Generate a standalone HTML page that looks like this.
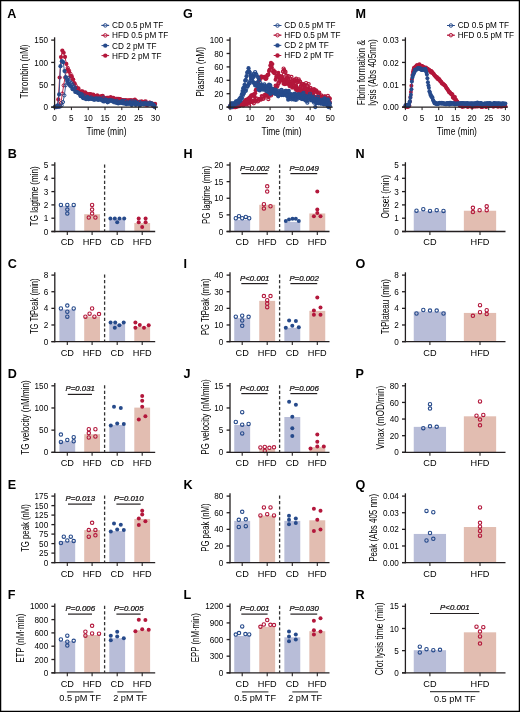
<!DOCTYPE html>
<html><head><meta charset="utf-8"><title>Figure</title>
<style>html,body{margin:0;padding:0;background:#fff;}svg{display:block;font-family:"Liberation Sans",sans-serif;will-change:transform;}</style>
</head><body>
<svg width="520" height="712" viewBox="0 0 520 712" font-family="Liberation Sans, sans-serif"><rect x="0" y="0" width="520" height="712" fill="#fff"/>
<path d="M55.61,106.91 L56.95,106.4 L58.3,106.23 L59.64,105.91 L60.98,102.95 L62.33,93.57 L63.67,85.42 L65.02,77.51 L66.36,71.09 L67.7,67.82 L69.05,70.53 L70.39,73.73 L71.74,78.25 L73.08,79.36 L74.42,83.24 L75.77,85.67 L77.11,89.42 L78.46,91.16 L79.8,91.75 L81.14,92.29 L82.49,92.53 L83.83,93.72 L85.18,94.17 L86.52,95.42 L87.86,94.96 L89.21,95.2 L90.55,96.36 L91.9,94.75 L93.24,95.99 L94.58,95.79 L95.93,97.47 L97.27,97.76 L98.62,97.64 L99.96,97.64 L101.3,97.24 L102.65,97.74 L103.99,98.49 L105.34,99.09 L106.68,98.92 L108.02,97.71 L109.37,99.53 L110.71,98.87 L112.06,98.91 L113.4,100.64 L114.74,99.59 L116.09,98.77 L117.43,101.62 L118.78,100.45 L120.12,100.46 L121.46,101.22 L122.81,100.35 L124.15,100.95 L125.5,102.17 L126.84,100.43 L128.18,100.66 L129.53,100.53 L130.87,100.23 L132.22,101.2 L133.56,101.5 L134.9,102.73 L136.25,101.29 L137.59,102.38 L138.94,102.38 L140.28,103.23 L141.62,103.18 L142.97,103.03 L144.31,101.76 L145.66,104.63 L147,104.36 L148.34,103.2 L149.69,102.42 L151.03,103.32 L152.38,105.51 L153.72,106.2 L155.06,104.08" fill="none" stroke="#b3173b" stroke-width="0.9"/>
<g fill="none" stroke="#b3173b" stroke-width="1"><circle cx="55.61" cy="106.91" r="1.6"/><circle cx="56.95" cy="106.4" r="1.6"/><circle cx="58.3" cy="106.23" r="1.6"/><circle cx="59.64" cy="105.91" r="1.6"/><circle cx="60.98" cy="102.95" r="1.6"/><circle cx="62.33" cy="93.57" r="1.6"/><circle cx="63.67" cy="85.42" r="1.6"/><circle cx="65.02" cy="77.51" r="1.6"/><circle cx="66.36" cy="71.09" r="1.6"/><circle cx="67.7" cy="67.82" r="1.6"/><circle cx="69.05" cy="70.53" r="1.6"/><circle cx="70.39" cy="73.73" r="1.6"/><circle cx="71.74" cy="78.25" r="1.6"/><circle cx="73.08" cy="79.36" r="1.6"/><circle cx="74.42" cy="83.24" r="1.6"/><circle cx="75.77" cy="85.67" r="1.6"/><circle cx="77.11" cy="89.42" r="1.6"/><circle cx="78.46" cy="91.16" r="1.6"/><circle cx="79.8" cy="91.75" r="1.6"/><circle cx="81.14" cy="92.29" r="1.6"/><circle cx="82.49" cy="92.53" r="1.6"/><circle cx="83.83" cy="93.72" r="1.6"/><circle cx="85.18" cy="94.17" r="1.6"/><circle cx="86.52" cy="95.42" r="1.6"/><circle cx="87.86" cy="94.96" r="1.6"/><circle cx="89.21" cy="95.2" r="1.6"/><circle cx="90.55" cy="96.36" r="1.6"/><circle cx="91.9" cy="94.75" r="1.6"/><circle cx="93.24" cy="95.99" r="1.6"/><circle cx="94.58" cy="95.79" r="1.6"/><circle cx="95.93" cy="97.47" r="1.6"/><circle cx="97.27" cy="97.76" r="1.6"/><circle cx="98.62" cy="97.64" r="1.6"/><circle cx="99.96" cy="97.64" r="1.6"/><circle cx="101.3" cy="97.24" r="1.6"/><circle cx="102.65" cy="97.74" r="1.6"/><circle cx="103.99" cy="98.49" r="1.6"/><circle cx="105.34" cy="99.09" r="1.6"/><circle cx="106.68" cy="98.92" r="1.6"/><circle cx="108.02" cy="97.71" r="1.6"/><circle cx="109.37" cy="99.53" r="1.6"/><circle cx="110.71" cy="98.87" r="1.6"/><circle cx="112.06" cy="98.91" r="1.6"/><circle cx="113.4" cy="100.64" r="1.6"/><circle cx="114.74" cy="99.59" r="1.6"/><circle cx="116.09" cy="98.77" r="1.6"/><circle cx="117.43" cy="101.62" r="1.6"/><circle cx="118.78" cy="100.45" r="1.6"/><circle cx="120.12" cy="100.46" r="1.6"/><circle cx="121.46" cy="101.22" r="1.6"/><circle cx="122.81" cy="100.35" r="1.6"/><circle cx="124.15" cy="100.95" r="1.6"/><circle cx="125.5" cy="102.17" r="1.6"/><circle cx="126.84" cy="100.43" r="1.6"/><circle cx="128.18" cy="100.66" r="1.6"/><circle cx="129.53" cy="100.53" r="1.6"/><circle cx="130.87" cy="100.23" r="1.6"/><circle cx="132.22" cy="101.2" r="1.6"/><circle cx="133.56" cy="101.5" r="1.6"/><circle cx="134.9" cy="102.73" r="1.6"/><circle cx="136.25" cy="101.29" r="1.6"/><circle cx="137.59" cy="102.38" r="1.6"/><circle cx="138.94" cy="102.38" r="1.6"/><circle cx="140.28" cy="103.23" r="1.6"/><circle cx="141.62" cy="103.18" r="1.6"/><circle cx="142.97" cy="103.03" r="1.6"/><circle cx="144.31" cy="101.76" r="1.6"/><circle cx="145.66" cy="104.63" r="1.6"/><circle cx="147" cy="104.36" r="1.6"/><circle cx="148.34" cy="103.2" r="1.6"/><circle cx="149.69" cy="102.42" r="1.6"/><circle cx="151.03" cy="103.32" r="1.6"/><circle cx="152.38" cy="105.51" r="1.6"/><circle cx="153.72" cy="106.2" r="1.6"/><circle cx="155.06" cy="104.08" r="1.6"/></g>
<path d="M55.61,107.1 L56.95,106.96 L58.3,99.4 L59.64,77.5 L60.98,57.07 L62.33,50.59 L63.67,52.75 L65.02,56.91 L66.36,63.93 L67.7,69.29 L69.05,71.77 L70.39,76.21 L71.74,76.17 L73.08,79.55 L74.42,83.26 L75.77,87.7 L77.11,88.17 L78.46,88.46 L79.8,92.09 L81.14,91.44 L82.49,91.27 L83.83,93.95 L85.18,92.41 L86.52,93.48 L87.86,94.27 L89.21,94.11 L90.55,94.22 L91.9,95.01 L93.24,94.55 L94.58,96.37 L95.93,96.41 L97.27,95.44 L98.62,96.45 L99.96,97.37 L101.3,96.09 L102.65,95.87 L103.99,97.62 L105.34,98.59 L106.68,97.81 L108.02,98.03 L109.37,98.37 L110.71,97.22 L112.06,99.39 L113.4,97.77 L114.74,100.01 L116.09,99.84 L117.43,98.92 L118.78,98.74 L120.12,99.17 L121.46,99.8 L122.81,100.18 L124.15,100.33 L125.5,100.09 L126.84,100.79 L128.18,100.52 L129.53,100.39 L130.87,100.95 L132.22,100.43 L133.56,100.69 L134.9,99.63 L136.25,101.08 L137.59,101.79 L138.94,101.87 L140.28,101.82 L141.62,101.3 L142.97,102.54 L144.31,102.19 L145.66,101.26 L147,105.03 L148.34,104.1 L149.69,103.24 L151.03,103.34 L152.38,103.71 L153.72,104.48 L155.06,103.84" fill="none" stroke="#b3173b" stroke-width="0.9"/>
<g fill="#b3173b"><circle cx="55.61" cy="107.1" r="2.1"/><circle cx="56.95" cy="106.96" r="2.1"/><circle cx="58.3" cy="99.4" r="2.1"/><circle cx="59.64" cy="77.5" r="2.1"/><circle cx="60.98" cy="57.07" r="2.1"/><circle cx="62.33" cy="50.59" r="2.1"/><circle cx="63.67" cy="52.75" r="2.1"/><circle cx="65.02" cy="56.91" r="2.1"/><circle cx="66.36" cy="63.93" r="2.1"/><circle cx="67.7" cy="69.29" r="2.1"/><circle cx="69.05" cy="71.77" r="2.1"/><circle cx="70.39" cy="76.21" r="2.1"/><circle cx="71.74" cy="76.17" r="2.1"/><circle cx="73.08" cy="79.55" r="2.1"/><circle cx="74.42" cy="83.26" r="2.1"/><circle cx="75.77" cy="87.7" r="2.1"/><circle cx="77.11" cy="88.17" r="2.1"/><circle cx="78.46" cy="88.46" r="2.1"/><circle cx="79.8" cy="92.09" r="2.1"/><circle cx="81.14" cy="91.44" r="2.1"/><circle cx="82.49" cy="91.27" r="2.1"/><circle cx="83.83" cy="93.95" r="2.1"/><circle cx="85.18" cy="92.41" r="2.1"/><circle cx="86.52" cy="93.48" r="2.1"/><circle cx="87.86" cy="94.27" r="2.1"/><circle cx="89.21" cy="94.11" r="2.1"/><circle cx="90.55" cy="94.22" r="2.1"/><circle cx="91.9" cy="95.01" r="2.1"/><circle cx="93.24" cy="94.55" r="2.1"/><circle cx="94.58" cy="96.37" r="2.1"/><circle cx="95.93" cy="96.41" r="2.1"/><circle cx="97.27" cy="95.44" r="2.1"/><circle cx="98.62" cy="96.45" r="2.1"/><circle cx="99.96" cy="97.37" r="2.1"/><circle cx="101.3" cy="96.09" r="2.1"/><circle cx="102.65" cy="95.87" r="2.1"/><circle cx="103.99" cy="97.62" r="2.1"/><circle cx="105.34" cy="98.59" r="2.1"/><circle cx="106.68" cy="97.81" r="2.1"/><circle cx="108.02" cy="98.03" r="2.1"/><circle cx="109.37" cy="98.37" r="2.1"/><circle cx="110.71" cy="97.22" r="2.1"/><circle cx="112.06" cy="99.39" r="2.1"/><circle cx="113.4" cy="97.77" r="2.1"/><circle cx="114.74" cy="100.01" r="2.1"/><circle cx="116.09" cy="99.84" r="2.1"/><circle cx="117.43" cy="98.92" r="2.1"/><circle cx="118.78" cy="98.74" r="2.1"/><circle cx="120.12" cy="99.17" r="2.1"/><circle cx="121.46" cy="99.8" r="2.1"/><circle cx="122.81" cy="100.18" r="2.1"/><circle cx="124.15" cy="100.33" r="2.1"/><circle cx="125.5" cy="100.09" r="2.1"/><circle cx="126.84" cy="100.79" r="2.1"/><circle cx="128.18" cy="100.52" r="2.1"/><circle cx="129.53" cy="100.39" r="2.1"/><circle cx="130.87" cy="100.95" r="2.1"/><circle cx="132.22" cy="100.43" r="2.1"/><circle cx="133.56" cy="100.69" r="2.1"/><circle cx="134.9" cy="99.63" r="2.1"/><circle cx="136.25" cy="101.08" r="2.1"/><circle cx="137.59" cy="101.79" r="2.1"/><circle cx="138.94" cy="101.87" r="2.1"/><circle cx="140.28" cy="101.82" r="2.1"/><circle cx="141.62" cy="101.3" r="2.1"/><circle cx="142.97" cy="102.54" r="2.1"/><circle cx="144.31" cy="102.19" r="2.1"/><circle cx="145.66" cy="101.26" r="2.1"/><circle cx="147" cy="105.03" r="2.1"/><circle cx="148.34" cy="104.1" r="2.1"/><circle cx="149.69" cy="103.24" r="2.1"/><circle cx="151.03" cy="103.34" r="2.1"/><circle cx="152.38" cy="103.71" r="2.1"/><circle cx="153.72" cy="104.48" r="2.1"/><circle cx="155.06" cy="103.84" r="2.1"/></g>
<path d="M54.94,107.02 L56.28,107.1 L57.62,106.42 L58.97,106.83 L60.31,106.48 L61.66,105.34 L63,102.07 L64.34,95.35 L65.69,85.29 L67.03,79.07 L68.38,77.95 L69.72,81.46 L71.06,82.78 L72.41,84.22 L73.75,86.53 L75.1,87.88 L76.44,92.1 L77.78,92.4 L79.13,93.89 L80.47,93.8 L81.82,94.18 L83.16,97.92 L84.5,95.6 L85.85,98.18 L87.19,96.84 L88.54,98.96 L89.88,97.93 L91.22,97.38 L92.57,98.72 L93.91,98.71 L95.26,98.46 L96.6,99.14 L97.94,99.48 L99.29,98.33 L100.63,98.88 L101.98,100.11 L103.32,97.81 L104.66,101.07 L106.01,99.54 L107.35,100.62 L108.7,100.43 L110.04,100.1 L111.38,100.62 L112.73,100.41 L114.07,102.28 L115.42,102.4 L116.76,100.82 L118.1,102.22 L119.45,102.4 L120.79,102.89 L122.14,100.82 L123.48,101.36 L124.82,100.86 L126.17,102.88 L127.51,102.2 L128.86,103.2 L130.2,101.74 L131.54,101.16 L132.89,103.23 L134.23,101.34 L135.58,101.88 L136.92,102.9 L138.26,104.42 L139.61,101.85 L140.95,103.22 L142.3,103.78 L143.64,103.14 L144.98,103.29 L146.33,102.58 L147.67,104.76 L149.02,103.19 L150.36,103.07 L151.7,103.26 L153.05,104.73 L154.39,105.34" fill="none" stroke="#264a8b" stroke-width="0.9"/>
<g fill="none" stroke="#264a8b" stroke-width="1"><circle cx="54.94" cy="107.02" r="1.6"/><circle cx="56.28" cy="107.1" r="1.6"/><circle cx="57.62" cy="106.42" r="1.6"/><circle cx="58.97" cy="106.83" r="1.6"/><circle cx="60.31" cy="106.48" r="1.6"/><circle cx="61.66" cy="105.34" r="1.6"/><circle cx="63" cy="102.07" r="1.6"/><circle cx="64.34" cy="95.35" r="1.6"/><circle cx="65.69" cy="85.29" r="1.6"/><circle cx="67.03" cy="79.07" r="1.6"/><circle cx="68.38" cy="77.95" r="1.6"/><circle cx="69.72" cy="81.46" r="1.6"/><circle cx="71.06" cy="82.78" r="1.6"/><circle cx="72.41" cy="84.22" r="1.6"/><circle cx="73.75" cy="86.53" r="1.6"/><circle cx="75.1" cy="87.88" r="1.6"/><circle cx="76.44" cy="92.1" r="1.6"/><circle cx="77.78" cy="92.4" r="1.6"/><circle cx="79.13" cy="93.89" r="1.6"/><circle cx="80.47" cy="93.8" r="1.6"/><circle cx="81.82" cy="94.18" r="1.6"/><circle cx="83.16" cy="97.92" r="1.6"/><circle cx="84.5" cy="95.6" r="1.6"/><circle cx="85.85" cy="98.18" r="1.6"/><circle cx="87.19" cy="96.84" r="1.6"/><circle cx="88.54" cy="98.96" r="1.6"/><circle cx="89.88" cy="97.93" r="1.6"/><circle cx="91.22" cy="97.38" r="1.6"/><circle cx="92.57" cy="98.72" r="1.6"/><circle cx="93.91" cy="98.71" r="1.6"/><circle cx="95.26" cy="98.46" r="1.6"/><circle cx="96.6" cy="99.14" r="1.6"/><circle cx="97.94" cy="99.48" r="1.6"/><circle cx="99.29" cy="98.33" r="1.6"/><circle cx="100.63" cy="98.88" r="1.6"/><circle cx="101.98" cy="100.11" r="1.6"/><circle cx="103.32" cy="97.81" r="1.6"/><circle cx="104.66" cy="101.07" r="1.6"/><circle cx="106.01" cy="99.54" r="1.6"/><circle cx="107.35" cy="100.62" r="1.6"/><circle cx="108.7" cy="100.43" r="1.6"/><circle cx="110.04" cy="100.1" r="1.6"/><circle cx="111.38" cy="100.62" r="1.6"/><circle cx="112.73" cy="100.41" r="1.6"/><circle cx="114.07" cy="102.28" r="1.6"/><circle cx="115.42" cy="102.4" r="1.6"/><circle cx="116.76" cy="100.82" r="1.6"/><circle cx="118.1" cy="102.22" r="1.6"/><circle cx="119.45" cy="102.4" r="1.6"/><circle cx="120.79" cy="102.89" r="1.6"/><circle cx="122.14" cy="100.82" r="1.6"/><circle cx="123.48" cy="101.36" r="1.6"/><circle cx="124.82" cy="100.86" r="1.6"/><circle cx="126.17" cy="102.88" r="1.6"/><circle cx="127.51" cy="102.2" r="1.6"/><circle cx="128.86" cy="103.2" r="1.6"/><circle cx="130.2" cy="101.74" r="1.6"/><circle cx="131.54" cy="101.16" r="1.6"/><circle cx="132.89" cy="103.23" r="1.6"/><circle cx="134.23" cy="101.34" r="1.6"/><circle cx="135.58" cy="101.88" r="1.6"/><circle cx="136.92" cy="102.9" r="1.6"/><circle cx="138.26" cy="104.42" r="1.6"/><circle cx="139.61" cy="101.85" r="1.6"/><circle cx="140.95" cy="103.22" r="1.6"/><circle cx="142.3" cy="103.78" r="1.6"/><circle cx="143.64" cy="103.14" r="1.6"/><circle cx="144.98" cy="103.29" r="1.6"/><circle cx="146.33" cy="102.58" r="1.6"/><circle cx="147.67" cy="104.76" r="1.6"/><circle cx="149.02" cy="103.19" r="1.6"/><circle cx="150.36" cy="103.07" r="1.6"/><circle cx="151.7" cy="103.26" r="1.6"/><circle cx="153.05" cy="104.73" r="1.6"/><circle cx="154.39" cy="105.34" r="1.6"/></g>
<path d="M55.1,106.72 L56.45,106.53 L57.79,105.43 L59.14,94.45 L60.48,66.16 L61.82,61.19 L63.17,62.19 L64.51,71.11 L65.86,77.14 L67.2,81.07 L68.54,83.51 L69.89,85.61 L71.23,86.84 L72.58,89.18 L73.92,89.5 L75.26,92.01 L76.61,92.12 L77.95,92.8 L79.3,93.58 L80.64,96.17 L81.98,95.4 L83.33,98.17 L84.67,98.07 L86.02,99.19 L87.36,97.08 L88.7,99.26 L90.05,98.56 L91.39,98.97 L92.74,99.1 L94.08,99.82 L95.42,99.38 L96.77,98.28 L98.11,99.84 L99.46,99.6 L100.8,99.38 L102.14,100.5 L103.49,101.51 L104.83,101.09 L106.18,99.94 L107.52,102.28 L108.86,101.59 L110.21,100.45 L111.55,100.77 L112.9,101.56 L114.24,101.07 L115.58,101.74 L116.93,102.97 L118.27,103.43 L119.62,102.84 L120.96,101.74 L122.3,103.09 L123.65,103.5 L124.99,103.46 L126.34,104.14 L127.68,103.07 L129.02,103.99 L130.37,102.82 L131.71,105.08 L133.06,102.98 L134.4,103.83 L135.74,104.94 L137.09,102.87 L138.43,103.74 L139.78,105.44 L141.12,104.5 L142.46,103.7 L143.81,104.45 L145.15,103.6 L146.5,103.77 L147.84,103.97 L149.18,104.39 L150.53,103.72 L151.87,104.41 L153.22,104.72 L154.56,106.9" fill="none" stroke="#264a8b" stroke-width="0.9"/>
<g fill="#264a8b"><circle cx="55.1" cy="106.72" r="2.1"/><circle cx="56.45" cy="106.53" r="2.1"/><circle cx="57.79" cy="105.43" r="2.1"/><circle cx="59.14" cy="94.45" r="2.1"/><circle cx="60.48" cy="66.16" r="2.1"/><circle cx="61.82" cy="61.19" r="2.1"/><circle cx="63.17" cy="62.19" r="2.1"/><circle cx="64.51" cy="71.11" r="2.1"/><circle cx="65.86" cy="77.14" r="2.1"/><circle cx="67.2" cy="81.07" r="2.1"/><circle cx="68.54" cy="83.51" r="2.1"/><circle cx="69.89" cy="85.61" r="2.1"/><circle cx="71.23" cy="86.84" r="2.1"/><circle cx="72.58" cy="89.18" r="2.1"/><circle cx="73.92" cy="89.5" r="2.1"/><circle cx="75.26" cy="92.01" r="2.1"/><circle cx="76.61" cy="92.12" r="2.1"/><circle cx="77.95" cy="92.8" r="2.1"/><circle cx="79.3" cy="93.58" r="2.1"/><circle cx="80.64" cy="96.17" r="2.1"/><circle cx="81.98" cy="95.4" r="2.1"/><circle cx="83.33" cy="98.17" r="2.1"/><circle cx="84.67" cy="98.07" r="2.1"/><circle cx="86.02" cy="99.19" r="2.1"/><circle cx="87.36" cy="97.08" r="2.1"/><circle cx="88.7" cy="99.26" r="2.1"/><circle cx="90.05" cy="98.56" r="2.1"/><circle cx="91.39" cy="98.97" r="2.1"/><circle cx="92.74" cy="99.1" r="2.1"/><circle cx="94.08" cy="99.82" r="2.1"/><circle cx="95.42" cy="99.38" r="2.1"/><circle cx="96.77" cy="98.28" r="2.1"/><circle cx="98.11" cy="99.84" r="2.1"/><circle cx="99.46" cy="99.6" r="2.1"/><circle cx="100.8" cy="99.38" r="2.1"/><circle cx="102.14" cy="100.5" r="2.1"/><circle cx="103.49" cy="101.51" r="2.1"/><circle cx="104.83" cy="101.09" r="2.1"/><circle cx="106.18" cy="99.94" r="2.1"/><circle cx="107.52" cy="102.28" r="2.1"/><circle cx="108.86" cy="101.59" r="2.1"/><circle cx="110.21" cy="100.45" r="2.1"/><circle cx="111.55" cy="100.77" r="2.1"/><circle cx="112.9" cy="101.56" r="2.1"/><circle cx="114.24" cy="101.07" r="2.1"/><circle cx="115.58" cy="101.74" r="2.1"/><circle cx="116.93" cy="102.97" r="2.1"/><circle cx="118.27" cy="103.43" r="2.1"/><circle cx="119.62" cy="102.84" r="2.1"/><circle cx="120.96" cy="101.74" r="2.1"/><circle cx="122.3" cy="103.09" r="2.1"/><circle cx="123.65" cy="103.5" r="2.1"/><circle cx="124.99" cy="103.46" r="2.1"/><circle cx="126.34" cy="104.14" r="2.1"/><circle cx="127.68" cy="103.07" r="2.1"/><circle cx="129.02" cy="103.99" r="2.1"/><circle cx="130.37" cy="102.82" r="2.1"/><circle cx="131.71" cy="105.08" r="2.1"/><circle cx="133.06" cy="102.98" r="2.1"/><circle cx="134.4" cy="103.83" r="2.1"/><circle cx="135.74" cy="104.94" r="2.1"/><circle cx="137.09" cy="102.87" r="2.1"/><circle cx="138.43" cy="103.74" r="2.1"/><circle cx="139.78" cy="105.44" r="2.1"/><circle cx="141.12" cy="104.5" r="2.1"/><circle cx="142.46" cy="103.7" r="2.1"/><circle cx="143.81" cy="104.45" r="2.1"/><circle cx="145.15" cy="103.6" r="2.1"/><circle cx="146.5" cy="103.77" r="2.1"/><circle cx="147.84" cy="103.97" r="2.1"/><circle cx="149.18" cy="104.39" r="2.1"/><circle cx="150.53" cy="103.72" r="2.1"/><circle cx="151.87" cy="104.41" r="2.1"/><circle cx="153.22" cy="104.72" r="2.1"/><circle cx="154.56" cy="106.9" r="2.1"/></g>
<line x1="54.6" y1="37.3" x2="54.6" y2="107.75" stroke="#231f20" stroke-width="1.3"/>
<line x1="51.2" y1="107.1" x2="54.6" y2="107.1" stroke="#231f20" stroke-width="1.3"/>
<text transform="translate(48,110.2) scale(0.9,1)" font-size="9.1" text-anchor="end">0</text>
<line x1="51.2" y1="84.77" x2="54.6" y2="84.77" stroke="#231f20" stroke-width="1.3"/>
<text transform="translate(48,87.87) scale(0.9,1)" font-size="9.1" text-anchor="end">50</text>
<line x1="51.2" y1="62.43" x2="54.6" y2="62.43" stroke="#231f20" stroke-width="1.3"/>
<text transform="translate(48,65.53) scale(0.9,1)" font-size="9.1" text-anchor="end">100</text>
<line x1="51.2" y1="40.1" x2="54.6" y2="40.1" stroke="#231f20" stroke-width="1.3"/>
<text transform="translate(48,43.2) scale(0.9,1)" font-size="9.1" text-anchor="end">150</text>
<text transform="translate(28.4,98.56) rotate(-90) scale(0.81,1)" font-size="10.2">Thrombin (nM)</text>
<line x1="51.2" y1="107.1" x2="157.9" y2="107.1" stroke="#231f20" stroke-width="1.3"/>
<line x1="54.6" y1="107.1" x2="54.6" y2="110.1" stroke="#231f20" stroke-width="1"/>
<text transform="translate(54.6,120.8) scale(0.9,1)" font-size="9.1" text-anchor="middle">0</text>
<line x1="71.4" y1="107.1" x2="71.4" y2="110.1" stroke="#231f20" stroke-width="1"/>
<text transform="translate(71.4,120.8) scale(0.9,1)" font-size="9.1" text-anchor="middle">5</text>
<line x1="88.2" y1="107.1" x2="88.2" y2="110.1" stroke="#231f20" stroke-width="1"/>
<text transform="translate(88.2,120.8) scale(0.9,1)" font-size="9.1" text-anchor="middle">10</text>
<line x1="105" y1="107.1" x2="105" y2="110.1" stroke="#231f20" stroke-width="1"/>
<text transform="translate(105,120.8) scale(0.9,1)" font-size="9.1" text-anchor="middle">15</text>
<line x1="121.8" y1="107.1" x2="121.8" y2="110.1" stroke="#231f20" stroke-width="1"/>
<text transform="translate(121.8,120.8) scale(0.9,1)" font-size="9.1" text-anchor="middle">20</text>
<line x1="138.6" y1="107.1" x2="138.6" y2="110.1" stroke="#231f20" stroke-width="1"/>
<text transform="translate(138.6,120.8) scale(0.9,1)" font-size="9.1" text-anchor="middle">25</text>
<line x1="155.4" y1="107.1" x2="155.4" y2="110.1" stroke="#231f20" stroke-width="1"/>
<text transform="translate(155.4,120.8) scale(0.9,1)" font-size="9.1" text-anchor="middle">30</text>
<text transform="translate(106.5,134.7) scale(0.83,1)" font-size="10.2" text-anchor="middle">Time (min)</text>
<line x1="101.5" y1="25.4" x2="109.1" y2="25.4" stroke="#264a8b" stroke-width="1"/>
<circle cx="105.3" cy="25.4" r="1.75" fill="#fff" stroke="#264a8b" stroke-width="1.0"/>
<line x1="101.5" y1="25.4" x2="109.1" y2="25.4" stroke="#264a8b" stroke-width="0.8"/>
<text transform="translate(112.1,28.3)" font-size="8.2">CD 0.5 pM TF</text>
<line x1="101.5" y1="35.4" x2="109.1" y2="35.4" stroke="#b3173b" stroke-width="1"/>
<circle cx="105.3" cy="35.4" r="1.75" fill="#fff" stroke="#b3173b" stroke-width="1.0"/>
<line x1="101.5" y1="35.4" x2="109.1" y2="35.4" stroke="#b3173b" stroke-width="0.8"/>
<text transform="translate(112.1,38.3)" font-size="8.2">HFD 0.5 pM TF</text>
<line x1="101.5" y1="45.6" x2="109.1" y2="45.6" stroke="#264a8b" stroke-width="1"/>
<circle cx="105.3" cy="45.6" r="2.2" fill="#264a8b"/>
<text transform="translate(112.1,48.5)" font-size="8.2">CD 2 pM TF</text>
<line x1="101.5" y1="55.6" x2="109.1" y2="55.6" stroke="#b3173b" stroke-width="1"/>
<circle cx="105.3" cy="55.6" r="2.2" fill="#b3173b"/>
<text transform="translate(112.1,58.5)" font-size="8.2">HFD 2 pM TF</text>
<text transform="translate(7.2,17.9)" font-size="12.6" font-weight="bold" fill="#000">A</text>
<path d="M230,106.2 L230.66,105.68 L231.32,107.1 L231.98,107.1 L232.65,104.72 L233.31,107.1 L233.97,105.99 L234.63,103.92 L235.29,107.1 L235.95,105.44 L236.61,104.1 L237.27,105.96 L237.94,105.11 L238.6,104.61 L239.26,106.27 L239.92,105.28 L240.58,104.74 L241.24,104.04 L241.9,104.75 L242.57,104.75 L243.23,105.41 L243.89,104.59 L244.55,103.18 L245.21,103.81 L245.87,104.61 L246.53,104.44 L247.19,100.75 L247.86,102.12 L248.52,102.47 L249.18,105.51 L249.84,102.06 L250.5,101.99 L251.16,100.56 L251.82,101.61 L252.48,101.89 L253.15,101.08 L253.81,103.34 L254.47,100.13 L255.13,100.63 L255.79,101.44 L256.45,99.19 L257.11,98.48 L257.78,101.49 L258.44,100.54 L259.1,99.31 L259.76,99.08 L260.42,99.33 L261.08,99.56 L261.74,96.11 L262.4,96.86 L263.07,98.77 L263.73,98.58 L264.39,95.17 L265.05,95.55 L265.71,94.37 L266.37,95.05 L267.03,96.4 L267.7,94.92 L268.36,99.19 L269.02,96.01 L269.68,94.4 L270.34,93.08 L271,95.45 L271.66,94.09 L272.32,92.7 L272.99,91.54 L273.65,89.68 L274.31,89.22 L274.97,88.96 L275.63,85.6 L276.29,86.14 L276.95,86.95 L277.62,85.6 L278.28,83.39 L278.94,82.66 L279.6,81.05 L280.26,79.58 L280.92,77.44 L281.58,76.27 L282.24,76.74 L282.91,71.57 L283.57,68.51 L284.23,70.1 L284.89,72.28 L285.55,71.92 L286.21,75.7 L286.87,78.62 L287.53,75.73 L288.2,78.77 L288.86,76.46 L289.52,81.17 L290.18,85 L290.84,82.02 L291.5,76.97 L292.16,81.13 L292.83,83.33 L293.49,82.33 L294.15,79.96 L294.81,80.23 L295.47,81.09 L296.13,78.67 L296.79,80.45 L297.45,82.13 L298.12,81.1 L298.78,79.45 L299.44,81.31 L300.1,81.69 L300.76,86.41 L301.42,85.02 L302.08,83.74 L302.75,86.29 L303.41,84.03 L304.07,85.46 L304.73,85.32 L305.39,88.06 L306.05,83 L306.71,85.99 L307.37,89.17 L308.04,88.81 L308.7,84.03 L309.36,90.19 L310.02,88 L310.68,88.04 L311.34,90.25 L312,92.87 L312.66,90.4 L313.33,90.31 L313.99,89.01 L314.65,89.97 L315.31,91.75 L315.97,90.34 L316.63,91.22 L317.29,92.28 L317.96,93.02 L318.62,94.05 L319.28,92.61 L319.94,96.53 L320.6,96.11 L321.26,95.26 L321.92,98.64 L322.58,97.01 L323.25,100.6 L323.91,98.36 L324.57,96.27 L325.23,96.71 L325.89,98.38 L326.55,99.17 L327.21,101.98 L327.88,95.89 L328.54,98.95 L329.2,98.22 L329.86,102.62" fill="none" stroke="#b3173b" stroke-width="0.9"/>
<g fill="none" stroke="#b3173b" stroke-width="1.2"><circle cx="230" cy="106.2" r="1.5"/><circle cx="230.66" cy="105.68" r="1.5"/><circle cx="231.32" cy="107.1" r="1.5"/><circle cx="231.98" cy="107.1" r="1.5"/><circle cx="232.65" cy="104.72" r="1.5"/><circle cx="233.31" cy="107.1" r="1.5"/><circle cx="233.97" cy="105.99" r="1.5"/><circle cx="234.63" cy="103.92" r="1.5"/><circle cx="235.29" cy="107.1" r="1.5"/><circle cx="235.95" cy="105.44" r="1.5"/><circle cx="236.61" cy="104.1" r="1.5"/><circle cx="237.27" cy="105.96" r="1.5"/><circle cx="237.94" cy="105.11" r="1.5"/><circle cx="238.6" cy="104.61" r="1.5"/><circle cx="239.26" cy="106.27" r="1.5"/><circle cx="239.92" cy="105.28" r="1.5"/><circle cx="240.58" cy="104.74" r="1.5"/><circle cx="241.24" cy="104.04" r="1.5"/><circle cx="241.9" cy="104.75" r="1.5"/><circle cx="242.57" cy="104.75" r="1.5"/><circle cx="243.23" cy="105.41" r="1.5"/><circle cx="243.89" cy="104.59" r="1.5"/><circle cx="244.55" cy="103.18" r="1.5"/><circle cx="245.21" cy="103.81" r="1.5"/><circle cx="245.87" cy="104.61" r="1.5"/><circle cx="246.53" cy="104.44" r="1.5"/><circle cx="247.19" cy="100.75" r="1.5"/><circle cx="247.86" cy="102.12" r="1.5"/><circle cx="248.52" cy="102.47" r="1.5"/><circle cx="249.18" cy="105.51" r="1.5"/><circle cx="249.84" cy="102.06" r="1.5"/><circle cx="250.5" cy="101.99" r="1.5"/><circle cx="251.16" cy="100.56" r="1.5"/><circle cx="251.82" cy="101.61" r="1.5"/><circle cx="252.48" cy="101.89" r="1.5"/><circle cx="253.15" cy="101.08" r="1.5"/><circle cx="253.81" cy="103.34" r="1.5"/><circle cx="254.47" cy="100.13" r="1.5"/><circle cx="255.13" cy="100.63" r="1.5"/><circle cx="255.79" cy="101.44" r="1.5"/><circle cx="256.45" cy="99.19" r="1.5"/><circle cx="257.11" cy="98.48" r="1.5"/><circle cx="257.78" cy="101.49" r="1.5"/><circle cx="258.44" cy="100.54" r="1.5"/><circle cx="259.1" cy="99.31" r="1.5"/><circle cx="259.76" cy="99.08" r="1.5"/><circle cx="260.42" cy="99.33" r="1.5"/><circle cx="261.08" cy="99.56" r="1.5"/><circle cx="261.74" cy="96.11" r="1.5"/><circle cx="262.4" cy="96.86" r="1.5"/><circle cx="263.07" cy="98.77" r="1.5"/><circle cx="263.73" cy="98.58" r="1.5"/><circle cx="264.39" cy="95.17" r="1.5"/><circle cx="265.05" cy="95.55" r="1.5"/><circle cx="265.71" cy="94.37" r="1.5"/><circle cx="266.37" cy="95.05" r="1.5"/><circle cx="267.03" cy="96.4" r="1.5"/><circle cx="267.7" cy="94.92" r="1.5"/><circle cx="268.36" cy="99.19" r="1.5"/><circle cx="269.02" cy="96.01" r="1.5"/><circle cx="269.68" cy="94.4" r="1.5"/><circle cx="270.34" cy="93.08" r="1.5"/><circle cx="271" cy="95.45" r="1.5"/><circle cx="271.66" cy="94.09" r="1.5"/><circle cx="272.32" cy="92.7" r="1.5"/><circle cx="272.99" cy="91.54" r="1.5"/><circle cx="273.65" cy="89.68" r="1.5"/><circle cx="274.31" cy="89.22" r="1.5"/><circle cx="274.97" cy="88.96" r="1.5"/><circle cx="275.63" cy="85.6" r="1.5"/><circle cx="276.29" cy="86.14" r="1.5"/><circle cx="276.95" cy="86.95" r="1.5"/><circle cx="277.62" cy="85.6" r="1.5"/><circle cx="278.28" cy="83.39" r="1.5"/><circle cx="278.94" cy="82.66" r="1.5"/><circle cx="279.6" cy="81.05" r="1.5"/><circle cx="280.26" cy="79.58" r="1.5"/><circle cx="280.92" cy="77.44" r="1.5"/><circle cx="281.58" cy="76.27" r="1.5"/><circle cx="282.24" cy="76.74" r="1.5"/><circle cx="282.91" cy="71.57" r="1.5"/><circle cx="283.57" cy="68.51" r="1.5"/><circle cx="284.23" cy="70.1" r="1.5"/><circle cx="284.89" cy="72.28" r="1.5"/><circle cx="285.55" cy="71.92" r="1.5"/><circle cx="286.21" cy="75.7" r="1.5"/><circle cx="286.87" cy="78.62" r="1.5"/><circle cx="287.53" cy="75.73" r="1.5"/><circle cx="288.2" cy="78.77" r="1.5"/><circle cx="288.86" cy="76.46" r="1.5"/><circle cx="289.52" cy="81.17" r="1.5"/><circle cx="290.18" cy="85" r="1.5"/><circle cx="290.84" cy="82.02" r="1.5"/><circle cx="291.5" cy="76.97" r="1.5"/><circle cx="292.16" cy="81.13" r="1.5"/><circle cx="292.83" cy="83.33" r="1.5"/><circle cx="293.49" cy="82.33" r="1.5"/><circle cx="294.15" cy="79.96" r="1.5"/><circle cx="294.81" cy="80.23" r="1.5"/><circle cx="295.47" cy="81.09" r="1.5"/><circle cx="296.13" cy="78.67" r="1.5"/><circle cx="296.79" cy="80.45" r="1.5"/><circle cx="297.45" cy="82.13" r="1.5"/><circle cx="298.12" cy="81.1" r="1.5"/><circle cx="298.78" cy="79.45" r="1.5"/><circle cx="299.44" cy="81.31" r="1.5"/><circle cx="300.1" cy="81.69" r="1.5"/><circle cx="300.76" cy="86.41" r="1.5"/><circle cx="301.42" cy="85.02" r="1.5"/><circle cx="302.08" cy="83.74" r="1.5"/><circle cx="302.75" cy="86.29" r="1.5"/><circle cx="303.41" cy="84.03" r="1.5"/><circle cx="304.07" cy="85.46" r="1.5"/><circle cx="304.73" cy="85.32" r="1.5"/><circle cx="305.39" cy="88.06" r="1.5"/><circle cx="306.05" cy="83" r="1.5"/><circle cx="306.71" cy="85.99" r="1.5"/><circle cx="307.37" cy="89.17" r="1.5"/><circle cx="308.04" cy="88.81" r="1.5"/><circle cx="308.7" cy="84.03" r="1.5"/><circle cx="309.36" cy="90.19" r="1.5"/><circle cx="310.02" cy="88" r="1.5"/><circle cx="310.68" cy="88.04" r="1.5"/><circle cx="311.34" cy="90.25" r="1.5"/><circle cx="312" cy="92.87" r="1.5"/><circle cx="312.66" cy="90.4" r="1.5"/><circle cx="313.33" cy="90.31" r="1.5"/><circle cx="313.99" cy="89.01" r="1.5"/><circle cx="314.65" cy="89.97" r="1.5"/><circle cx="315.31" cy="91.75" r="1.5"/><circle cx="315.97" cy="90.34" r="1.5"/><circle cx="316.63" cy="91.22" r="1.5"/><circle cx="317.29" cy="92.28" r="1.5"/><circle cx="317.96" cy="93.02" r="1.5"/><circle cx="318.62" cy="94.05" r="1.5"/><circle cx="319.28" cy="92.61" r="1.5"/><circle cx="319.94" cy="96.53" r="1.5"/><circle cx="320.6" cy="96.11" r="1.5"/><circle cx="321.26" cy="95.26" r="1.5"/><circle cx="321.92" cy="98.64" r="1.5"/><circle cx="322.58" cy="97.01" r="1.5"/><circle cx="323.25" cy="100.6" r="1.5"/><circle cx="323.91" cy="98.36" r="1.5"/><circle cx="324.57" cy="96.27" r="1.5"/><circle cx="325.23" cy="96.71" r="1.5"/><circle cx="325.89" cy="98.38" r="1.5"/><circle cx="326.55" cy="99.17" r="1.5"/><circle cx="327.21" cy="101.98" r="1.5"/><circle cx="327.88" cy="95.89" r="1.5"/><circle cx="328.54" cy="98.95" r="1.5"/><circle cx="329.2" cy="98.22" r="1.5"/><circle cx="329.86" cy="102.62" r="1.5"/></g>
<path d="M230,107.1 L230.66,107.1 L231.32,106.09 L231.98,105.83 L232.65,107.1 L233.31,106.6 L233.97,105.8 L234.63,107.1 L235.29,107.1 L235.95,106.8 L236.61,106.12 L237.27,106.66 L237.94,104.98 L238.6,104.52 L239.26,103.9 L239.92,103.59 L240.58,102.54 L241.24,102.65 L241.9,104.71 L242.57,103.41 L243.23,103.48 L243.89,103 L244.55,101.51 L245.21,100.93 L245.87,99.95 L246.53,101.55 L247.19,100.71 L247.86,98.99 L248.52,98.68 L249.18,98.25 L249.84,97.46 L250.5,97.61 L251.16,95.59 L251.82,95.39 L252.48,95.28 L253.15,95.32 L253.81,94.27 L254.47,96.28 L255.13,93.31 L255.79,90.15 L256.45,89.57 L257.11,85.72 L257.78,83.64 L258.44,83.04 L259.1,80.23 L259.76,79.41 L260.42,77.75 L261.08,76.71 L261.74,76.48 L262.4,77.41 L263.07,77.03 L263.73,77.28 L264.39,76.81 L265.05,77.58 L265.71,78.94 L266.37,78.47 L267.03,75.92 L267.7,74.73 L268.36,74.66 L269.02,71.1 L269.68,69.56 L270.34,65.6 L271,62.93 L271.66,67.21 L272.32,64.1 L272.99,71.82 L273.65,70.45 L274.31,73.15 L274.97,71.89 L275.63,79.65 L276.29,77.12 L276.95,75.85 L277.62,75.83 L278.28,72.84 L278.94,77.39 L279.6,75.97 L280.26,77.5 L280.92,77.63 L281.58,79.01 L282.24,80.85 L282.91,80.01 L283.57,83.7 L284.23,79.52 L284.89,84.26 L285.55,82.03 L286.21,78.59 L286.87,83.63 L287.53,83.46 L288.2,81.48 L288.86,84.09 L289.52,86.08 L290.18,84.3 L290.84,84.06 L291.5,84.21 L292.16,87.61 L292.83,82.94 L293.49,83.53 L294.15,87.25 L294.81,87.16 L295.47,88.97 L296.13,85.68 L296.79,90.35 L297.45,87.99 L298.12,90.72 L298.78,91.57 L299.44,89.14 L300.1,88.31 L300.76,91.28 L301.42,92.88 L302.08,90.14 L302.75,92.12 L303.41,91.66 L304.07,89.47 L304.73,90.52 L305.39,94.09 L306.05,88.71 L306.71,93.55 L307.37,92.23 L308.04,95.37 L308.7,94.41 L309.36,98.09 L310.02,91.24 L310.68,92.34 L311.34,97.78 L312,98.62 L312.66,99.11 L313.33,93.74 L313.99,97.29 L314.65,96.74 L315.31,97.5 L315.97,97.37 L316.63,99.57 L317.29,97.59 L317.96,100.78 L318.62,98.29 L319.28,97.78 L319.94,97.72 L320.6,99.38 L321.26,101 L321.92,99.15 L322.58,100.73 L323.25,96.9 L323.91,98.79 L324.57,100.86 L325.23,101.86 L325.89,102.61 L326.55,103.37 L327.21,102.49 L327.88,101.47 L328.54,101.32 L329.2,101.5 L329.86,98.71" fill="none" stroke="#b3173b" stroke-width="0.9"/>
<g fill="#b3173b"><circle cx="230" cy="107.1" r="2.1"/><circle cx="230.66" cy="107.1" r="2.1"/><circle cx="231.32" cy="106.09" r="2.1"/><circle cx="231.98" cy="105.83" r="2.1"/><circle cx="232.65" cy="107.1" r="2.1"/><circle cx="233.31" cy="106.6" r="2.1"/><circle cx="233.97" cy="105.8" r="2.1"/><circle cx="234.63" cy="107.1" r="2.1"/><circle cx="235.29" cy="107.1" r="2.1"/><circle cx="235.95" cy="106.8" r="2.1"/><circle cx="236.61" cy="106.12" r="2.1"/><circle cx="237.27" cy="106.66" r="2.1"/><circle cx="237.94" cy="104.98" r="2.1"/><circle cx="238.6" cy="104.52" r="2.1"/><circle cx="239.26" cy="103.9" r="2.1"/><circle cx="239.92" cy="103.59" r="2.1"/><circle cx="240.58" cy="102.54" r="2.1"/><circle cx="241.24" cy="102.65" r="2.1"/><circle cx="241.9" cy="104.71" r="2.1"/><circle cx="242.57" cy="103.41" r="2.1"/><circle cx="243.23" cy="103.48" r="2.1"/><circle cx="243.89" cy="103" r="2.1"/><circle cx="244.55" cy="101.51" r="2.1"/><circle cx="245.21" cy="100.93" r="2.1"/><circle cx="245.87" cy="99.95" r="2.1"/><circle cx="246.53" cy="101.55" r="2.1"/><circle cx="247.19" cy="100.71" r="2.1"/><circle cx="247.86" cy="98.99" r="2.1"/><circle cx="248.52" cy="98.68" r="2.1"/><circle cx="249.18" cy="98.25" r="2.1"/><circle cx="249.84" cy="97.46" r="2.1"/><circle cx="250.5" cy="97.61" r="2.1"/><circle cx="251.16" cy="95.59" r="2.1"/><circle cx="251.82" cy="95.39" r="2.1"/><circle cx="252.48" cy="95.28" r="2.1"/><circle cx="253.15" cy="95.32" r="2.1"/><circle cx="253.81" cy="94.27" r="2.1"/><circle cx="254.47" cy="96.28" r="2.1"/><circle cx="255.13" cy="93.31" r="2.1"/><circle cx="255.79" cy="90.15" r="2.1"/><circle cx="256.45" cy="89.57" r="2.1"/><circle cx="257.11" cy="85.72" r="2.1"/><circle cx="257.78" cy="83.64" r="2.1"/><circle cx="258.44" cy="83.04" r="2.1"/><circle cx="259.1" cy="80.23" r="2.1"/><circle cx="259.76" cy="79.41" r="2.1"/><circle cx="260.42" cy="77.75" r="2.1"/><circle cx="261.08" cy="76.71" r="2.1"/><circle cx="261.74" cy="76.48" r="2.1"/><circle cx="262.4" cy="77.41" r="2.1"/><circle cx="263.07" cy="77.03" r="2.1"/><circle cx="263.73" cy="77.28" r="2.1"/><circle cx="264.39" cy="76.81" r="2.1"/><circle cx="265.05" cy="77.58" r="2.1"/><circle cx="265.71" cy="78.94" r="2.1"/><circle cx="266.37" cy="78.47" r="2.1"/><circle cx="267.03" cy="75.92" r="2.1"/><circle cx="267.7" cy="74.73" r="2.1"/><circle cx="268.36" cy="74.66" r="2.1"/><circle cx="269.02" cy="71.1" r="2.1"/><circle cx="269.68" cy="69.56" r="2.1"/><circle cx="270.34" cy="65.6" r="2.1"/><circle cx="271" cy="62.93" r="2.1"/><circle cx="271.66" cy="67.21" r="2.1"/><circle cx="272.32" cy="64.1" r="2.1"/><circle cx="272.99" cy="71.82" r="2.1"/><circle cx="273.65" cy="70.45" r="2.1"/><circle cx="274.31" cy="73.15" r="2.1"/><circle cx="274.97" cy="71.89" r="2.1"/><circle cx="275.63" cy="79.65" r="2.1"/><circle cx="276.29" cy="77.12" r="2.1"/><circle cx="276.95" cy="75.85" r="2.1"/><circle cx="277.62" cy="75.83" r="2.1"/><circle cx="278.28" cy="72.84" r="2.1"/><circle cx="278.94" cy="77.39" r="2.1"/><circle cx="279.6" cy="75.97" r="2.1"/><circle cx="280.26" cy="77.5" r="2.1"/><circle cx="280.92" cy="77.63" r="2.1"/><circle cx="281.58" cy="79.01" r="2.1"/><circle cx="282.24" cy="80.85" r="2.1"/><circle cx="282.91" cy="80.01" r="2.1"/><circle cx="283.57" cy="83.7" r="2.1"/><circle cx="284.23" cy="79.52" r="2.1"/><circle cx="284.89" cy="84.26" r="2.1"/><circle cx="285.55" cy="82.03" r="2.1"/><circle cx="286.21" cy="78.59" r="2.1"/><circle cx="286.87" cy="83.63" r="2.1"/><circle cx="287.53" cy="83.46" r="2.1"/><circle cx="288.2" cy="81.48" r="2.1"/><circle cx="288.86" cy="84.09" r="2.1"/><circle cx="289.52" cy="86.08" r="2.1"/><circle cx="290.18" cy="84.3" r="2.1"/><circle cx="290.84" cy="84.06" r="2.1"/><circle cx="291.5" cy="84.21" r="2.1"/><circle cx="292.16" cy="87.61" r="2.1"/><circle cx="292.83" cy="82.94" r="2.1"/><circle cx="293.49" cy="83.53" r="2.1"/><circle cx="294.15" cy="87.25" r="2.1"/><circle cx="294.81" cy="87.16" r="2.1"/><circle cx="295.47" cy="88.97" r="2.1"/><circle cx="296.13" cy="85.68" r="2.1"/><circle cx="296.79" cy="90.35" r="2.1"/><circle cx="297.45" cy="87.99" r="2.1"/><circle cx="298.12" cy="90.72" r="2.1"/><circle cx="298.78" cy="91.57" r="2.1"/><circle cx="299.44" cy="89.14" r="2.1"/><circle cx="300.1" cy="88.31" r="2.1"/><circle cx="300.76" cy="91.28" r="2.1"/><circle cx="301.42" cy="92.88" r="2.1"/><circle cx="302.08" cy="90.14" r="2.1"/><circle cx="302.75" cy="92.12" r="2.1"/><circle cx="303.41" cy="91.66" r="2.1"/><circle cx="304.07" cy="89.47" r="2.1"/><circle cx="304.73" cy="90.52" r="2.1"/><circle cx="305.39" cy="94.09" r="2.1"/><circle cx="306.05" cy="88.71" r="2.1"/><circle cx="306.71" cy="93.55" r="2.1"/><circle cx="307.37" cy="92.23" r="2.1"/><circle cx="308.04" cy="95.37" r="2.1"/><circle cx="308.7" cy="94.41" r="2.1"/><circle cx="309.36" cy="98.09" r="2.1"/><circle cx="310.02" cy="91.24" r="2.1"/><circle cx="310.68" cy="92.34" r="2.1"/><circle cx="311.34" cy="97.78" r="2.1"/><circle cx="312" cy="98.62" r="2.1"/><circle cx="312.66" cy="99.11" r="2.1"/><circle cx="313.33" cy="93.74" r="2.1"/><circle cx="313.99" cy="97.29" r="2.1"/><circle cx="314.65" cy="96.74" r="2.1"/><circle cx="315.31" cy="97.5" r="2.1"/><circle cx="315.97" cy="97.37" r="2.1"/><circle cx="316.63" cy="99.57" r="2.1"/><circle cx="317.29" cy="97.59" r="2.1"/><circle cx="317.96" cy="100.78" r="2.1"/><circle cx="318.62" cy="98.29" r="2.1"/><circle cx="319.28" cy="97.78" r="2.1"/><circle cx="319.94" cy="97.72" r="2.1"/><circle cx="320.6" cy="99.38" r="2.1"/><circle cx="321.26" cy="101" r="2.1"/><circle cx="321.92" cy="99.15" r="2.1"/><circle cx="322.58" cy="100.73" r="2.1"/><circle cx="323.25" cy="96.9" r="2.1"/><circle cx="323.91" cy="98.79" r="2.1"/><circle cx="324.57" cy="100.86" r="2.1"/><circle cx="325.23" cy="101.86" r="2.1"/><circle cx="325.89" cy="102.61" r="2.1"/><circle cx="326.55" cy="103.37" r="2.1"/><circle cx="327.21" cy="102.49" r="2.1"/><circle cx="327.88" cy="101.47" r="2.1"/><circle cx="328.54" cy="101.32" r="2.1"/><circle cx="329.2" cy="101.5" r="2.1"/><circle cx="329.86" cy="98.71" r="2.1"/></g>
<path d="M230,107.1 L230.66,106.64 L231.32,103.41 L231.98,107.1 L232.65,105.86 L233.31,104.72 L233.97,104.29 L234.63,103.59 L235.29,103.8 L235.95,102.75 L236.61,102.62 L237.27,101.46 L237.94,103.7 L238.6,102.24 L239.26,100.8 L239.92,101.1 L240.58,100.38 L241.24,97.96 L241.9,98.51 L242.57,95.88 L243.23,94.29 L243.89,93.26 L244.55,91.58 L245.21,90.76 L245.87,90.75 L246.53,88.04 L247.19,86.22 L247.86,85.88 L248.52,84.34 L249.18,82.45 L249.84,83.06 L250.5,80.5 L251.16,78.23 L251.82,79.55 L252.48,77.74 L253.15,76.91 L253.81,73.92 L254.47,73.86 L255.13,71.98 L255.79,73.81 L256.45,74.8 L257.11,76.48 L257.78,82.02 L258.44,77.54 L259.1,80.57 L259.76,87 L260.42,83.09 L261.08,85.93 L261.74,85.09 L262.4,85.58 L263.07,89.65 L263.73,87.39 L264.39,84.29 L265.05,88.77 L265.71,89.99 L266.37,90.99 L267.03,91.04 L267.7,88.23 L268.36,85.83 L269.02,88.69 L269.68,89.29 L270.34,85.45 L271,91.15 L271.66,91.63 L272.32,89.37 L272.99,89.5 L273.65,92.8 L274.31,93.28 L274.97,90.5 L275.63,90.76 L276.29,94.04 L276.95,91.99 L277.62,92.84 L278.28,90.98 L278.94,92.31 L279.6,92.41 L280.26,93.11 L280.92,90.46 L281.58,89.96 L282.24,93.67 L282.91,91.41 L283.57,94.81 L284.23,93.32 L284.89,92.13 L285.55,90.77 L286.21,94.76 L286.87,94.32 L287.53,93.95 L288.2,97.54 L288.86,94.67 L289.52,96.24 L290.18,94.31 L290.84,97.46 L291.5,99.29 L292.16,95.37 L292.83,95.06 L293.49,96.82 L294.15,94.06 L294.81,96.53 L295.47,97.33 L296.13,95.29 L296.79,99.53 L297.45,97.87 L298.12,96.69 L298.78,95.07 L299.44,97.24 L300.1,96.42 L300.76,98.49 L301.42,96.7 L302.08,94.1 L302.75,98.95 L303.41,92.95 L304.07,99.13 L304.73,97.94 L305.39,97.75 L306.05,96.18 L306.71,100.85 L307.37,102.72 L308.04,97.42 L308.7,97.17 L309.36,97.65 L310.02,93.74 L310.68,98.79 L311.34,98.87 L312,97.69 L312.66,98.99 L313.33,96.56 L313.99,102.57 L314.65,101.02 L315.31,107.1 L315.97,98.98 L316.63,101.54 L317.29,99.11 L317.96,96.82 L318.62,101.33 L319.28,102.01 L319.94,102.68 L320.6,103.54 L321.26,103.3 L321.92,100.92 L322.58,102.31 L323.25,102.43 L323.91,103.09 L324.57,101.08 L325.23,102.1 L325.89,103.55 L326.55,102.11 L327.21,103.93 L327.88,106.12 L328.54,101.05 L329.2,103.22 L329.86,106.25" fill="none" stroke="#264a8b" stroke-width="0.9"/>
<g fill="none" stroke="#264a8b" stroke-width="1.2"><circle cx="230" cy="107.1" r="1.5"/><circle cx="230.66" cy="106.64" r="1.5"/><circle cx="231.32" cy="103.41" r="1.5"/><circle cx="231.98" cy="107.1" r="1.5"/><circle cx="232.65" cy="105.86" r="1.5"/><circle cx="233.31" cy="104.72" r="1.5"/><circle cx="233.97" cy="104.29" r="1.5"/><circle cx="234.63" cy="103.59" r="1.5"/><circle cx="235.29" cy="103.8" r="1.5"/><circle cx="235.95" cy="102.75" r="1.5"/><circle cx="236.61" cy="102.62" r="1.5"/><circle cx="237.27" cy="101.46" r="1.5"/><circle cx="237.94" cy="103.7" r="1.5"/><circle cx="238.6" cy="102.24" r="1.5"/><circle cx="239.26" cy="100.8" r="1.5"/><circle cx="239.92" cy="101.1" r="1.5"/><circle cx="240.58" cy="100.38" r="1.5"/><circle cx="241.24" cy="97.96" r="1.5"/><circle cx="241.9" cy="98.51" r="1.5"/><circle cx="242.57" cy="95.88" r="1.5"/><circle cx="243.23" cy="94.29" r="1.5"/><circle cx="243.89" cy="93.26" r="1.5"/><circle cx="244.55" cy="91.58" r="1.5"/><circle cx="245.21" cy="90.76" r="1.5"/><circle cx="245.87" cy="90.75" r="1.5"/><circle cx="246.53" cy="88.04" r="1.5"/><circle cx="247.19" cy="86.22" r="1.5"/><circle cx="247.86" cy="85.88" r="1.5"/><circle cx="248.52" cy="84.34" r="1.5"/><circle cx="249.18" cy="82.45" r="1.5"/><circle cx="249.84" cy="83.06" r="1.5"/><circle cx="250.5" cy="80.5" r="1.5"/><circle cx="251.16" cy="78.23" r="1.5"/><circle cx="251.82" cy="79.55" r="1.5"/><circle cx="252.48" cy="77.74" r="1.5"/><circle cx="253.15" cy="76.91" r="1.5"/><circle cx="253.81" cy="73.92" r="1.5"/><circle cx="254.47" cy="73.86" r="1.5"/><circle cx="255.13" cy="71.98" r="1.5"/><circle cx="255.79" cy="73.81" r="1.5"/><circle cx="256.45" cy="74.8" r="1.5"/><circle cx="257.11" cy="76.48" r="1.5"/><circle cx="257.78" cy="82.02" r="1.5"/><circle cx="258.44" cy="77.54" r="1.5"/><circle cx="259.1" cy="80.57" r="1.5"/><circle cx="259.76" cy="87" r="1.5"/><circle cx="260.42" cy="83.09" r="1.5"/><circle cx="261.08" cy="85.93" r="1.5"/><circle cx="261.74" cy="85.09" r="1.5"/><circle cx="262.4" cy="85.58" r="1.5"/><circle cx="263.07" cy="89.65" r="1.5"/><circle cx="263.73" cy="87.39" r="1.5"/><circle cx="264.39" cy="84.29" r="1.5"/><circle cx="265.05" cy="88.77" r="1.5"/><circle cx="265.71" cy="89.99" r="1.5"/><circle cx="266.37" cy="90.99" r="1.5"/><circle cx="267.03" cy="91.04" r="1.5"/><circle cx="267.7" cy="88.23" r="1.5"/><circle cx="268.36" cy="85.83" r="1.5"/><circle cx="269.02" cy="88.69" r="1.5"/><circle cx="269.68" cy="89.29" r="1.5"/><circle cx="270.34" cy="85.45" r="1.5"/><circle cx="271" cy="91.15" r="1.5"/><circle cx="271.66" cy="91.63" r="1.5"/><circle cx="272.32" cy="89.37" r="1.5"/><circle cx="272.99" cy="89.5" r="1.5"/><circle cx="273.65" cy="92.8" r="1.5"/><circle cx="274.31" cy="93.28" r="1.5"/><circle cx="274.97" cy="90.5" r="1.5"/><circle cx="275.63" cy="90.76" r="1.5"/><circle cx="276.29" cy="94.04" r="1.5"/><circle cx="276.95" cy="91.99" r="1.5"/><circle cx="277.62" cy="92.84" r="1.5"/><circle cx="278.28" cy="90.98" r="1.5"/><circle cx="278.94" cy="92.31" r="1.5"/><circle cx="279.6" cy="92.41" r="1.5"/><circle cx="280.26" cy="93.11" r="1.5"/><circle cx="280.92" cy="90.46" r="1.5"/><circle cx="281.58" cy="89.96" r="1.5"/><circle cx="282.24" cy="93.67" r="1.5"/><circle cx="282.91" cy="91.41" r="1.5"/><circle cx="283.57" cy="94.81" r="1.5"/><circle cx="284.23" cy="93.32" r="1.5"/><circle cx="284.89" cy="92.13" r="1.5"/><circle cx="285.55" cy="90.77" r="1.5"/><circle cx="286.21" cy="94.76" r="1.5"/><circle cx="286.87" cy="94.32" r="1.5"/><circle cx="287.53" cy="93.95" r="1.5"/><circle cx="288.2" cy="97.54" r="1.5"/><circle cx="288.86" cy="94.67" r="1.5"/><circle cx="289.52" cy="96.24" r="1.5"/><circle cx="290.18" cy="94.31" r="1.5"/><circle cx="290.84" cy="97.46" r="1.5"/><circle cx="291.5" cy="99.29" r="1.5"/><circle cx="292.16" cy="95.37" r="1.5"/><circle cx="292.83" cy="95.06" r="1.5"/><circle cx="293.49" cy="96.82" r="1.5"/><circle cx="294.15" cy="94.06" r="1.5"/><circle cx="294.81" cy="96.53" r="1.5"/><circle cx="295.47" cy="97.33" r="1.5"/><circle cx="296.13" cy="95.29" r="1.5"/><circle cx="296.79" cy="99.53" r="1.5"/><circle cx="297.45" cy="97.87" r="1.5"/><circle cx="298.12" cy="96.69" r="1.5"/><circle cx="298.78" cy="95.07" r="1.5"/><circle cx="299.44" cy="97.24" r="1.5"/><circle cx="300.1" cy="96.42" r="1.5"/><circle cx="300.76" cy="98.49" r="1.5"/><circle cx="301.42" cy="96.7" r="1.5"/><circle cx="302.08" cy="94.1" r="1.5"/><circle cx="302.75" cy="98.95" r="1.5"/><circle cx="303.41" cy="92.95" r="1.5"/><circle cx="304.07" cy="99.13" r="1.5"/><circle cx="304.73" cy="97.94" r="1.5"/><circle cx="305.39" cy="97.75" r="1.5"/><circle cx="306.05" cy="96.18" r="1.5"/><circle cx="306.71" cy="100.85" r="1.5"/><circle cx="307.37" cy="102.72" r="1.5"/><circle cx="308.04" cy="97.42" r="1.5"/><circle cx="308.7" cy="97.17" r="1.5"/><circle cx="309.36" cy="97.65" r="1.5"/><circle cx="310.02" cy="93.74" r="1.5"/><circle cx="310.68" cy="98.79" r="1.5"/><circle cx="311.34" cy="98.87" r="1.5"/><circle cx="312" cy="97.69" r="1.5"/><circle cx="312.66" cy="98.99" r="1.5"/><circle cx="313.33" cy="96.56" r="1.5"/><circle cx="313.99" cy="102.57" r="1.5"/><circle cx="314.65" cy="101.02" r="1.5"/><circle cx="315.31" cy="107.1" r="1.5"/><circle cx="315.97" cy="98.98" r="1.5"/><circle cx="316.63" cy="101.54" r="1.5"/><circle cx="317.29" cy="99.11" r="1.5"/><circle cx="317.96" cy="96.82" r="1.5"/><circle cx="318.62" cy="101.33" r="1.5"/><circle cx="319.28" cy="102.01" r="1.5"/><circle cx="319.94" cy="102.68" r="1.5"/><circle cx="320.6" cy="103.54" r="1.5"/><circle cx="321.26" cy="103.3" r="1.5"/><circle cx="321.92" cy="100.92" r="1.5"/><circle cx="322.58" cy="102.31" r="1.5"/><circle cx="323.25" cy="102.43" r="1.5"/><circle cx="323.91" cy="103.09" r="1.5"/><circle cx="324.57" cy="101.08" r="1.5"/><circle cx="325.23" cy="102.1" r="1.5"/><circle cx="325.89" cy="103.55" r="1.5"/><circle cx="326.55" cy="102.11" r="1.5"/><circle cx="327.21" cy="103.93" r="1.5"/><circle cx="327.88" cy="106.12" r="1.5"/><circle cx="328.54" cy="101.05" r="1.5"/><circle cx="329.2" cy="103.22" r="1.5"/><circle cx="329.86" cy="106.25" r="1.5"/></g>
<path d="M230,106.02 L230.66,106.09 L231.32,107.1 L231.98,103.49 L232.65,104.33 L233.31,103.32 L233.97,103.58 L234.63,103.48 L235.29,104.45 L235.95,101.47 L236.61,101.98 L237.27,101.85 L237.94,100.77 L238.6,100.6 L239.26,99.24 L239.92,98.96 L240.58,97.3 L241.24,97.87 L241.9,94.15 L242.57,91.06 L243.23,88.27 L243.89,87.55 L244.55,84.87 L245.21,80.67 L245.87,79.93 L246.53,76.21 L247.19,72.65 L247.86,71.81 L248.52,68.13 L249.18,71.43 L249.84,72.72 L250.5,75.22 L251.16,77.24 L251.82,78.11 L252.48,77.88 L253.15,81.99 L253.81,82.94 L254.47,82.91 L255.13,85.43 L255.79,84.3 L256.45,84.07 L257.11,86.2 L257.78,85 L258.44,89.61 L259.1,85.4 L259.76,90.45 L260.42,89.11 L261.08,88.97 L261.74,88.81 L262.4,86.42 L263.07,88.13 L263.73,89.24 L264.39,87.5 L265.05,85.56 L265.71,88.87 L266.37,88.3 L267.03,86.69 L267.7,88.79 L268.36,92.06 L269.02,84.62 L269.68,85.37 L270.34,94 L271,90.29 L271.66,89.58 L272.32,88.68 L272.99,89.48 L273.65,91.58 L274.31,93.36 L274.97,91.23 L275.63,89.57 L276.29,94.04 L276.95,94.12 L277.62,92.31 L278.28,96.36 L278.94,93.19 L279.6,93.75 L280.26,92.16 L280.92,94.61 L281.58,95.1 L282.24,94.25 L282.91,93.69 L283.57,95.06 L284.23,93.83 L284.89,92.48 L285.55,91.74 L286.21,90.83 L286.87,95.96 L287.53,95.37 L288.2,99.64 L288.86,90.97 L289.52,96.38 L290.18,95.12 L290.84,94.13 L291.5,98.05 L292.16,94.52 L292.83,95.64 L293.49,99.39 L294.15,95.26 L294.81,93.58 L295.47,99.87 L296.13,94.62 L296.79,95.96 L297.45,95.56 L298.12,95.76 L298.78,94.16 L299.44,97.36 L300.1,95.29 L300.76,98 L301.42,95.84 L302.08,99.08 L302.75,97.79 L303.41,94.23 L304.07,96.94 L304.73,98.29 L305.39,100.4 L306.05,99.82 L306.71,97.98 L307.37,96.61 L308.04,97.78 L308.7,97.71 L309.36,98.98 L310.02,96.31 L310.68,99.98 L311.34,100.48 L312,97.77 L312.66,99.6 L313.33,100.47 L313.99,101.24 L314.65,100.78 L315.31,99.18 L315.97,99.9 L316.63,103.22 L317.29,100.11 L317.96,100.79 L318.62,103.33 L319.28,99.95 L319.94,102.24 L320.6,102.53 L321.26,100.43 L321.92,99.55 L322.58,103.77 L323.25,101.68 L323.91,104.5 L324.57,98.26 L325.23,104.08 L325.89,100.87 L326.55,104.75 L327.21,101.99 L327.88,99.34 L328.54,107.1 L329.2,105.03 L329.86,103.32" fill="none" stroke="#264a8b" stroke-width="0.9"/>
<g fill="#264a8b"><circle cx="230" cy="106.02" r="2.1"/><circle cx="230.66" cy="106.09" r="2.1"/><circle cx="231.32" cy="107.1" r="2.1"/><circle cx="231.98" cy="103.49" r="2.1"/><circle cx="232.65" cy="104.33" r="2.1"/><circle cx="233.31" cy="103.32" r="2.1"/><circle cx="233.97" cy="103.58" r="2.1"/><circle cx="234.63" cy="103.48" r="2.1"/><circle cx="235.29" cy="104.45" r="2.1"/><circle cx="235.95" cy="101.47" r="2.1"/><circle cx="236.61" cy="101.98" r="2.1"/><circle cx="237.27" cy="101.85" r="2.1"/><circle cx="237.94" cy="100.77" r="2.1"/><circle cx="238.6" cy="100.6" r="2.1"/><circle cx="239.26" cy="99.24" r="2.1"/><circle cx="239.92" cy="98.96" r="2.1"/><circle cx="240.58" cy="97.3" r="2.1"/><circle cx="241.24" cy="97.87" r="2.1"/><circle cx="241.9" cy="94.15" r="2.1"/><circle cx="242.57" cy="91.06" r="2.1"/><circle cx="243.23" cy="88.27" r="2.1"/><circle cx="243.89" cy="87.55" r="2.1"/><circle cx="244.55" cy="84.87" r="2.1"/><circle cx="245.21" cy="80.67" r="2.1"/><circle cx="245.87" cy="79.93" r="2.1"/><circle cx="246.53" cy="76.21" r="2.1"/><circle cx="247.19" cy="72.65" r="2.1"/><circle cx="247.86" cy="71.81" r="2.1"/><circle cx="248.52" cy="68.13" r="2.1"/><circle cx="249.18" cy="71.43" r="2.1"/><circle cx="249.84" cy="72.72" r="2.1"/><circle cx="250.5" cy="75.22" r="2.1"/><circle cx="251.16" cy="77.24" r="2.1"/><circle cx="251.82" cy="78.11" r="2.1"/><circle cx="252.48" cy="77.88" r="2.1"/><circle cx="253.15" cy="81.99" r="2.1"/><circle cx="253.81" cy="82.94" r="2.1"/><circle cx="254.47" cy="82.91" r="2.1"/><circle cx="255.13" cy="85.43" r="2.1"/><circle cx="255.79" cy="84.3" r="2.1"/><circle cx="256.45" cy="84.07" r="2.1"/><circle cx="257.11" cy="86.2" r="2.1"/><circle cx="257.78" cy="85" r="2.1"/><circle cx="258.44" cy="89.61" r="2.1"/><circle cx="259.1" cy="85.4" r="2.1"/><circle cx="259.76" cy="90.45" r="2.1"/><circle cx="260.42" cy="89.11" r="2.1"/><circle cx="261.08" cy="88.97" r="2.1"/><circle cx="261.74" cy="88.81" r="2.1"/><circle cx="262.4" cy="86.42" r="2.1"/><circle cx="263.07" cy="88.13" r="2.1"/><circle cx="263.73" cy="89.24" r="2.1"/><circle cx="264.39" cy="87.5" r="2.1"/><circle cx="265.05" cy="85.56" r="2.1"/><circle cx="265.71" cy="88.87" r="2.1"/><circle cx="266.37" cy="88.3" r="2.1"/><circle cx="267.03" cy="86.69" r="2.1"/><circle cx="267.7" cy="88.79" r="2.1"/><circle cx="268.36" cy="92.06" r="2.1"/><circle cx="269.02" cy="84.62" r="2.1"/><circle cx="269.68" cy="85.37" r="2.1"/><circle cx="270.34" cy="94" r="2.1"/><circle cx="271" cy="90.29" r="2.1"/><circle cx="271.66" cy="89.58" r="2.1"/><circle cx="272.32" cy="88.68" r="2.1"/><circle cx="272.99" cy="89.48" r="2.1"/><circle cx="273.65" cy="91.58" r="2.1"/><circle cx="274.31" cy="93.36" r="2.1"/><circle cx="274.97" cy="91.23" r="2.1"/><circle cx="275.63" cy="89.57" r="2.1"/><circle cx="276.29" cy="94.04" r="2.1"/><circle cx="276.95" cy="94.12" r="2.1"/><circle cx="277.62" cy="92.31" r="2.1"/><circle cx="278.28" cy="96.36" r="2.1"/><circle cx="278.94" cy="93.19" r="2.1"/><circle cx="279.6" cy="93.75" r="2.1"/><circle cx="280.26" cy="92.16" r="2.1"/><circle cx="280.92" cy="94.61" r="2.1"/><circle cx="281.58" cy="95.1" r="2.1"/><circle cx="282.24" cy="94.25" r="2.1"/><circle cx="282.91" cy="93.69" r="2.1"/><circle cx="283.57" cy="95.06" r="2.1"/><circle cx="284.23" cy="93.83" r="2.1"/><circle cx="284.89" cy="92.48" r="2.1"/><circle cx="285.55" cy="91.74" r="2.1"/><circle cx="286.21" cy="90.83" r="2.1"/><circle cx="286.87" cy="95.96" r="2.1"/><circle cx="287.53" cy="95.37" r="2.1"/><circle cx="288.2" cy="99.64" r="2.1"/><circle cx="288.86" cy="90.97" r="2.1"/><circle cx="289.52" cy="96.38" r="2.1"/><circle cx="290.18" cy="95.12" r="2.1"/><circle cx="290.84" cy="94.13" r="2.1"/><circle cx="291.5" cy="98.05" r="2.1"/><circle cx="292.16" cy="94.52" r="2.1"/><circle cx="292.83" cy="95.64" r="2.1"/><circle cx="293.49" cy="99.39" r="2.1"/><circle cx="294.15" cy="95.26" r="2.1"/><circle cx="294.81" cy="93.58" r="2.1"/><circle cx="295.47" cy="99.87" r="2.1"/><circle cx="296.13" cy="94.62" r="2.1"/><circle cx="296.79" cy="95.96" r="2.1"/><circle cx="297.45" cy="95.56" r="2.1"/><circle cx="298.12" cy="95.76" r="2.1"/><circle cx="298.78" cy="94.16" r="2.1"/><circle cx="299.44" cy="97.36" r="2.1"/><circle cx="300.1" cy="95.29" r="2.1"/><circle cx="300.76" cy="98" r="2.1"/><circle cx="301.42" cy="95.84" r="2.1"/><circle cx="302.08" cy="99.08" r="2.1"/><circle cx="302.75" cy="97.79" r="2.1"/><circle cx="303.41" cy="94.23" r="2.1"/><circle cx="304.07" cy="96.94" r="2.1"/><circle cx="304.73" cy="98.29" r="2.1"/><circle cx="305.39" cy="100.4" r="2.1"/><circle cx="306.05" cy="99.82" r="2.1"/><circle cx="306.71" cy="97.98" r="2.1"/><circle cx="307.37" cy="96.61" r="2.1"/><circle cx="308.04" cy="97.78" r="2.1"/><circle cx="308.7" cy="97.71" r="2.1"/><circle cx="309.36" cy="98.98" r="2.1"/><circle cx="310.02" cy="96.31" r="2.1"/><circle cx="310.68" cy="99.98" r="2.1"/><circle cx="311.34" cy="100.48" r="2.1"/><circle cx="312" cy="97.77" r="2.1"/><circle cx="312.66" cy="99.6" r="2.1"/><circle cx="313.33" cy="100.47" r="2.1"/><circle cx="313.99" cy="101.24" r="2.1"/><circle cx="314.65" cy="100.78" r="2.1"/><circle cx="315.31" cy="99.18" r="2.1"/><circle cx="315.97" cy="99.9" r="2.1"/><circle cx="316.63" cy="103.22" r="2.1"/><circle cx="317.29" cy="100.11" r="2.1"/><circle cx="317.96" cy="100.79" r="2.1"/><circle cx="318.62" cy="103.33" r="2.1"/><circle cx="319.28" cy="99.95" r="2.1"/><circle cx="319.94" cy="102.24" r="2.1"/><circle cx="320.6" cy="102.53" r="2.1"/><circle cx="321.26" cy="100.43" r="2.1"/><circle cx="321.92" cy="99.55" r="2.1"/><circle cx="322.58" cy="103.77" r="2.1"/><circle cx="323.25" cy="101.68" r="2.1"/><circle cx="323.91" cy="104.5" r="2.1"/><circle cx="324.57" cy="98.26" r="2.1"/><circle cx="325.23" cy="104.08" r="2.1"/><circle cx="325.89" cy="100.87" r="2.1"/><circle cx="326.55" cy="104.75" r="2.1"/><circle cx="327.21" cy="101.99" r="2.1"/><circle cx="327.88" cy="99.34" r="2.1"/><circle cx="328.54" cy="107.1" r="2.1"/><circle cx="329.2" cy="105.03" r="2.1"/><circle cx="329.86" cy="103.32" r="2.1"/></g>
<line x1="230" y1="37.3" x2="230" y2="107.75" stroke="#231f20" stroke-width="1.3"/>
<line x1="226.6" y1="107.1" x2="230" y2="107.1" stroke="#231f20" stroke-width="1.3"/>
<text transform="translate(223.4,110.2) scale(0.9,1)" font-size="9.1" text-anchor="end">0</text>
<line x1="226.6" y1="93.7" x2="230" y2="93.7" stroke="#231f20" stroke-width="1.3"/>
<text transform="translate(223.4,96.8) scale(0.9,1)" font-size="9.1" text-anchor="end">20</text>
<line x1="226.6" y1="80.3" x2="230" y2="80.3" stroke="#231f20" stroke-width="1.3"/>
<text transform="translate(223.4,83.4) scale(0.9,1)" font-size="9.1" text-anchor="end">40</text>
<line x1="226.6" y1="66.9" x2="230" y2="66.9" stroke="#231f20" stroke-width="1.3"/>
<text transform="translate(223.4,70) scale(0.9,1)" font-size="9.1" text-anchor="end">60</text>
<line x1="226.6" y1="53.5" x2="230" y2="53.5" stroke="#231f20" stroke-width="1.3"/>
<text transform="translate(223.4,56.6) scale(0.9,1)" font-size="9.1" text-anchor="end">80</text>
<line x1="226.6" y1="40.1" x2="230" y2="40.1" stroke="#231f20" stroke-width="1.3"/>
<text transform="translate(223.4,43.2) scale(0.9,1)" font-size="9.1" text-anchor="end">100</text>
<text transform="translate(203.6,96.78) rotate(-90) scale(0.83,1)" font-size="10.2">Plasmin (nM)</text>
<line x1="226.6" y1="107.1" x2="332.7" y2="107.1" stroke="#231f20" stroke-width="1.3"/>
<line x1="230" y1="107.1" x2="230" y2="110.1" stroke="#231f20" stroke-width="1"/>
<text transform="translate(230,120.8) scale(0.9,1)" font-size="9.1" text-anchor="middle">0</text>
<line x1="250.04" y1="107.1" x2="250.04" y2="110.1" stroke="#231f20" stroke-width="1"/>
<text transform="translate(250.04,120.8) scale(0.9,1)" font-size="9.1" text-anchor="middle">10</text>
<line x1="270.08" y1="107.1" x2="270.08" y2="110.1" stroke="#231f20" stroke-width="1"/>
<text transform="translate(270.08,120.8) scale(0.9,1)" font-size="9.1" text-anchor="middle">20</text>
<line x1="290.12" y1="107.1" x2="290.12" y2="110.1" stroke="#231f20" stroke-width="1"/>
<text transform="translate(290.12,120.8) scale(0.9,1)" font-size="9.1" text-anchor="middle">30</text>
<line x1="310.16" y1="107.1" x2="310.16" y2="110.1" stroke="#231f20" stroke-width="1"/>
<text transform="translate(310.16,120.8) scale(0.9,1)" font-size="9.1" text-anchor="middle">40</text>
<line x1="330.2" y1="107.1" x2="330.2" y2="110.1" stroke="#231f20" stroke-width="1"/>
<text transform="translate(330.2,120.8) scale(0.9,1)" font-size="9.1" text-anchor="middle">50</text>
<text transform="translate(281.6,134.7) scale(0.83,1)" font-size="10.2" text-anchor="middle">Time (min)</text>
<line x1="273.7" y1="25.5" x2="281.3" y2="25.5" stroke="#264a8b" stroke-width="1"/>
<circle cx="277.5" cy="25.5" r="1.75" fill="#fff" stroke="#264a8b" stroke-width="1.0"/>
<line x1="273.7" y1="25.5" x2="281.3" y2="25.5" stroke="#264a8b" stroke-width="0.8"/>
<text transform="translate(284.3,28.4)" font-size="8.2">CD 0.5 pM TF</text>
<line x1="273.7" y1="35.2" x2="281.3" y2="35.2" stroke="#b3173b" stroke-width="1"/>
<circle cx="277.5" cy="35.2" r="1.75" fill="#fff" stroke="#b3173b" stroke-width="1.0"/>
<line x1="273.7" y1="35.2" x2="281.3" y2="35.2" stroke="#b3173b" stroke-width="0.8"/>
<text transform="translate(284.3,38.1)" font-size="8.2">HFD 0.5 pM TF</text>
<line x1="273.7" y1="45.4" x2="281.3" y2="45.4" stroke="#264a8b" stroke-width="1"/>
<circle cx="277.5" cy="45.4" r="2.2" fill="#264a8b"/>
<text transform="translate(284.3,48.3)" font-size="8.2">CD 2 pM TF</text>
<line x1="273.7" y1="55.5" x2="281.3" y2="55.5" stroke="#b3173b" stroke-width="1"/>
<circle cx="277.5" cy="55.5" r="2.2" fill="#b3173b"/>
<text transform="translate(284.3,58.4)" font-size="8.2">HFD 2 pM TF</text>
<text transform="translate(183,17.6)" font-size="12.6" font-weight="bold" fill="#000">G</text>
<path d="M405.4,106.48 L405.9,106.69 L406.4,105.01 L406.9,106.05 L407.4,106.9 L407.9,105.39 L408.4,106.72 L408.9,105.01 L409.4,105.86 L409.9,101.55 L410.4,97.02 L410.9,91.91 L411.4,85.78 L411.9,79.5 L412.4,74.88 L412.9,72.11 L413.4,69.97 L413.9,68.06 L414.4,67.81 L414.9,67.26 L415.4,68.42 L415.9,66.87 L416.4,65.74 L416.9,65.37 L417.4,65.29 L417.9,67.16 L418.4,65.69 L418.9,65.51 L419.4,64.36 L419.9,66.32 L420.4,65.97 L420.9,65.98 L421.4,65.71 L421.9,66.67 L422.4,65.99 L422.9,67.28 L423.4,66.91 L423.9,67.56 L424.4,67.39 L424.9,68.08 L425.4,68.79 L425.9,67.5 L426.4,68.2 L426.9,69.01 L427.4,68.92 L427.9,68.81 L428.4,70.23 L428.9,70.08 L429.4,70.05 L429.9,70.38 L430.4,71.19 L430.9,72.51 L431.4,70.97 L431.9,71.81 L432.4,72.5 L432.9,73.2 L433.4,73.44 L433.9,74.37 L434.4,75.25 L434.9,75.63 L435.4,76.09 L435.9,76.64 L436.4,77.49 L436.9,77.03 L437.4,78.66 L437.9,78.09 L438.4,79.54 L438.9,79.29 L439.4,79.23 L439.9,80.4 L440.4,81.43 L440.9,81.51 L441.4,81.96 L441.9,83.53 L442.4,83.41 L442.9,83.49 L443.4,84.36 L443.9,84.68 L444.4,84.95 L444.9,85.57 L445.4,86.12 L445.9,86.93 L446.4,88.05 L446.9,88.54 L447.4,89.31 L447.9,89.97 L448.4,90.52 L448.9,92.02 L449.4,91.88 L449.9,92.31 L450.4,93.46 L450.9,93.54 L451.4,93.85 L451.9,94.84 L452.4,94.2 L452.9,97.42 L453.4,96.69 L453.9,98.21 L454.4,97.25 L454.9,96.93 L455.4,100.49 L455.9,99.74 L456.4,100.24 L456.9,101.41 L457.4,101.66 L457.9,103.93 L458.4,102.92 L458.9,103.91 L459.4,104.82 L459.9,105.69 L460.4,105.15 L460.9,105.92 L461.4,105.67 L461.9,106.22 L462.4,107.1 L462.9,106 L463.4,105.87 L463.9,105.56 L464.4,106.47 L464.9,106 L465.4,105.64 L465.9,105.9 L466.4,105.29 L466.9,104.87 L467.4,106.49 L467.9,107.06 L468.4,105.51 L468.9,105.13 L469.4,105.47 L469.9,105.53 L470.4,106.33 L470.9,106.38 L471.4,105.49 L471.9,106.49 L472.4,107 L472.9,106.54 L473.4,104.59 L473.9,104.91 L474.4,106.37 L474.9,106.39 L475.4,105.85 L475.9,106.4 L476.4,105.25 L476.9,106.03 L477.4,106.59 L477.9,105.25 L478.4,106.31 L478.9,105.86 L479.4,105.99 L479.9,106.16 L480.4,105.8 L480.9,106.37 L481.4,107.01 L481.9,107.1 L482.4,106.69 L482.9,106.41 L483.4,106 L483.9,105.95 L484.4,105.67 L484.9,105.92 L485.4,106.43 L485.9,106.38 L486.4,107.1 L486.9,106.08 L487.4,105.71 L487.9,105.69 L488.4,106.05 L488.9,106.08 L489.4,105.46 L489.9,105.97 L490.4,105.57 L490.9,105.66 L491.4,105.86 L491.9,105.25 L492.4,106.3 L492.9,106.18 L493.4,106.43 L493.9,106.43 L494.4,105.11 L494.9,105 L495.4,105.97 L495.9,105.67 L496.4,105.33 L496.9,105.53 L497.4,105.31 L497.9,106.69 L498.4,106.34 L498.9,105.73 L499.4,105.18 L499.9,105.93 L500.4,106.46 L500.9,106.18 L501.4,106.35 L501.9,106.46 L502.4,105.15 L502.9,106.33 L503.4,105.97 L503.9,104.78 L504.4,105.32 L504.9,105.8 L505.4,106.32" fill="none" stroke="#b3173b" stroke-width="0.9"/>
<g fill="#b3173b"><circle cx="405.4" cy="106.48" r="2"/><circle cx="405.9" cy="106.69" r="2"/><circle cx="406.4" cy="105.01" r="2"/><circle cx="406.9" cy="106.05" r="2"/><circle cx="407.4" cy="106.9" r="2"/><circle cx="407.9" cy="105.39" r="2"/><circle cx="408.4" cy="106.72" r="2"/><circle cx="408.9" cy="105.01" r="2"/><circle cx="409.4" cy="105.86" r="2"/><circle cx="409.9" cy="101.55" r="2"/><circle cx="410.4" cy="97.02" r="2"/><circle cx="410.9" cy="91.91" r="2"/><circle cx="411.4" cy="85.78" r="2"/><circle cx="411.9" cy="79.5" r="2"/><circle cx="412.4" cy="74.88" r="2"/><circle cx="412.9" cy="72.11" r="2"/><circle cx="413.4" cy="69.97" r="2"/><circle cx="413.9" cy="68.06" r="2"/><circle cx="414.4" cy="67.81" r="2"/><circle cx="414.9" cy="67.26" r="2"/><circle cx="415.4" cy="68.42" r="2"/><circle cx="415.9" cy="66.87" r="2"/><circle cx="416.4" cy="65.74" r="2"/><circle cx="416.9" cy="65.37" r="2"/><circle cx="417.4" cy="65.29" r="2"/><circle cx="417.9" cy="67.16" r="2"/><circle cx="418.4" cy="65.69" r="2"/><circle cx="418.9" cy="65.51" r="2"/><circle cx="419.4" cy="64.36" r="2"/><circle cx="419.9" cy="66.32" r="2"/><circle cx="420.4" cy="65.97" r="2"/><circle cx="420.9" cy="65.98" r="2"/><circle cx="421.4" cy="65.71" r="2"/><circle cx="421.9" cy="66.67" r="2"/><circle cx="422.4" cy="65.99" r="2"/><circle cx="422.9" cy="67.28" r="2"/><circle cx="423.4" cy="66.91" r="2"/><circle cx="423.9" cy="67.56" r="2"/><circle cx="424.4" cy="67.39" r="2"/><circle cx="424.9" cy="68.08" r="2"/><circle cx="425.4" cy="68.79" r="2"/><circle cx="425.9" cy="67.5" r="2"/><circle cx="426.4" cy="68.2" r="2"/><circle cx="426.9" cy="69.01" r="2"/><circle cx="427.4" cy="68.92" r="2"/><circle cx="427.9" cy="68.81" r="2"/><circle cx="428.4" cy="70.23" r="2"/><circle cx="428.9" cy="70.08" r="2"/><circle cx="429.4" cy="70.05" r="2"/><circle cx="429.9" cy="70.38" r="2"/><circle cx="430.4" cy="71.19" r="2"/><circle cx="430.9" cy="72.51" r="2"/><circle cx="431.4" cy="70.97" r="2"/><circle cx="431.9" cy="71.81" r="2"/><circle cx="432.4" cy="72.5" r="2"/><circle cx="432.9" cy="73.2" r="2"/><circle cx="433.4" cy="73.44" r="2"/><circle cx="433.9" cy="74.37" r="2"/><circle cx="434.4" cy="75.25" r="2"/><circle cx="434.9" cy="75.63" r="2"/><circle cx="435.4" cy="76.09" r="2"/><circle cx="435.9" cy="76.64" r="2"/><circle cx="436.4" cy="77.49" r="2"/><circle cx="436.9" cy="77.03" r="2"/><circle cx="437.4" cy="78.66" r="2"/><circle cx="437.9" cy="78.09" r="2"/><circle cx="438.4" cy="79.54" r="2"/><circle cx="438.9" cy="79.29" r="2"/><circle cx="439.4" cy="79.23" r="2"/><circle cx="439.9" cy="80.4" r="2"/><circle cx="440.4" cy="81.43" r="2"/><circle cx="440.9" cy="81.51" r="2"/><circle cx="441.4" cy="81.96" r="2"/><circle cx="441.9" cy="83.53" r="2"/><circle cx="442.4" cy="83.41" r="2"/><circle cx="442.9" cy="83.49" r="2"/><circle cx="443.4" cy="84.36" r="2"/><circle cx="443.9" cy="84.68" r="2"/><circle cx="444.4" cy="84.95" r="2"/><circle cx="444.9" cy="85.57" r="2"/><circle cx="445.4" cy="86.12" r="2"/><circle cx="445.9" cy="86.93" r="2"/><circle cx="446.4" cy="88.05" r="2"/><circle cx="446.9" cy="88.54" r="2"/><circle cx="447.4" cy="89.31" r="2"/><circle cx="447.9" cy="89.97" r="2"/><circle cx="448.4" cy="90.52" r="2"/><circle cx="448.9" cy="92.02" r="2"/><circle cx="449.4" cy="91.88" r="2"/><circle cx="449.9" cy="92.31" r="2"/><circle cx="450.4" cy="93.46" r="2"/><circle cx="450.9" cy="93.54" r="2"/><circle cx="451.4" cy="93.85" r="2"/><circle cx="451.9" cy="94.84" r="2"/><circle cx="452.4" cy="94.2" r="2"/><circle cx="452.9" cy="97.42" r="2"/><circle cx="453.4" cy="96.69" r="2"/><circle cx="453.9" cy="98.21" r="2"/><circle cx="454.4" cy="97.25" r="2"/><circle cx="454.9" cy="96.93" r="2"/><circle cx="455.4" cy="100.49" r="2"/><circle cx="455.9" cy="99.74" r="2"/><circle cx="456.4" cy="100.24" r="2"/><circle cx="456.9" cy="101.41" r="2"/><circle cx="457.4" cy="101.66" r="2"/><circle cx="457.9" cy="103.93" r="2"/><circle cx="458.4" cy="102.92" r="2"/><circle cx="458.9" cy="103.91" r="2"/><circle cx="459.4" cy="104.82" r="2"/><circle cx="459.9" cy="105.69" r="2"/><circle cx="460.4" cy="105.15" r="2"/><circle cx="460.9" cy="105.92" r="2"/><circle cx="461.4" cy="105.67" r="2"/><circle cx="461.9" cy="106.22" r="2"/><circle cx="462.4" cy="107.1" r="2"/><circle cx="462.9" cy="106" r="2"/><circle cx="463.4" cy="105.87" r="2"/><circle cx="463.9" cy="105.56" r="2"/><circle cx="464.4" cy="106.47" r="2"/><circle cx="464.9" cy="106" r="2"/><circle cx="465.4" cy="105.64" r="2"/><circle cx="465.9" cy="105.9" r="2"/><circle cx="466.4" cy="105.29" r="2"/><circle cx="466.9" cy="104.87" r="2"/><circle cx="467.4" cy="106.49" r="2"/><circle cx="467.9" cy="107.06" r="2"/><circle cx="468.4" cy="105.51" r="2"/><circle cx="468.9" cy="105.13" r="2"/><circle cx="469.4" cy="105.47" r="2"/><circle cx="469.9" cy="105.53" r="2"/><circle cx="470.4" cy="106.33" r="2"/><circle cx="470.9" cy="106.38" r="2"/><circle cx="471.4" cy="105.49" r="2"/><circle cx="471.9" cy="106.49" r="2"/><circle cx="472.4" cy="107" r="2"/><circle cx="472.9" cy="106.54" r="2"/><circle cx="473.4" cy="104.59" r="2"/><circle cx="473.9" cy="104.91" r="2"/><circle cx="474.4" cy="106.37" r="2"/><circle cx="474.9" cy="106.39" r="2"/><circle cx="475.4" cy="105.85" r="2"/><circle cx="475.9" cy="106.4" r="2"/><circle cx="476.4" cy="105.25" r="2"/><circle cx="476.9" cy="106.03" r="2"/><circle cx="477.4" cy="106.59" r="2"/><circle cx="477.9" cy="105.25" r="2"/><circle cx="478.4" cy="106.31" r="2"/><circle cx="478.9" cy="105.86" r="2"/><circle cx="479.4" cy="105.99" r="2"/><circle cx="479.9" cy="106.16" r="2"/><circle cx="480.4" cy="105.8" r="2"/><circle cx="480.9" cy="106.37" r="2"/><circle cx="481.4" cy="107.01" r="2"/><circle cx="481.9" cy="107.1" r="2"/><circle cx="482.4" cy="106.69" r="2"/><circle cx="482.9" cy="106.41" r="2"/><circle cx="483.4" cy="106" r="2"/><circle cx="483.9" cy="105.95" r="2"/><circle cx="484.4" cy="105.67" r="2"/><circle cx="484.9" cy="105.92" r="2"/><circle cx="485.4" cy="106.43" r="2"/><circle cx="485.9" cy="106.38" r="2"/><circle cx="486.4" cy="107.1" r="2"/><circle cx="486.9" cy="106.08" r="2"/><circle cx="487.4" cy="105.71" r="2"/><circle cx="487.9" cy="105.69" r="2"/><circle cx="488.4" cy="106.05" r="2"/><circle cx="488.9" cy="106.08" r="2"/><circle cx="489.4" cy="105.46" r="2"/><circle cx="489.9" cy="105.97" r="2"/><circle cx="490.4" cy="105.57" r="2"/><circle cx="490.9" cy="105.66" r="2"/><circle cx="491.4" cy="105.86" r="2"/><circle cx="491.9" cy="105.25" r="2"/><circle cx="492.4" cy="106.3" r="2"/><circle cx="492.9" cy="106.18" r="2"/><circle cx="493.4" cy="106.43" r="2"/><circle cx="493.9" cy="106.43" r="2"/><circle cx="494.4" cy="105.11" r="2"/><circle cx="494.9" cy="105" r="2"/><circle cx="495.4" cy="105.97" r="2"/><circle cx="495.9" cy="105.67" r="2"/><circle cx="496.4" cy="105.33" r="2"/><circle cx="496.9" cy="105.53" r="2"/><circle cx="497.4" cy="105.31" r="2"/><circle cx="497.9" cy="106.69" r="2"/><circle cx="498.4" cy="106.34" r="2"/><circle cx="498.9" cy="105.73" r="2"/><circle cx="499.4" cy="105.18" r="2"/><circle cx="499.9" cy="105.93" r="2"/><circle cx="500.4" cy="106.46" r="2"/><circle cx="500.9" cy="106.18" r="2"/><circle cx="501.4" cy="106.35" r="2"/><circle cx="501.9" cy="106.46" r="2"/><circle cx="502.4" cy="105.15" r="2"/><circle cx="502.9" cy="106.33" r="2"/><circle cx="503.4" cy="105.97" r="2"/><circle cx="503.9" cy="104.78" r="2"/><circle cx="504.4" cy="105.32" r="2"/><circle cx="504.9" cy="105.8" r="2"/><circle cx="505.4" cy="106.32" r="2"/></g>
<path d="M405.4,105.58 L405.9,104.97 L406.4,105.36 L406.9,105.01 L407.4,105.47 L407.9,105.22 L408.4,105.48 L408.9,105.14 L409.4,102.83 L409.9,101.21 L410.4,97.75 L410.9,94.77 L411.4,89.19 L411.9,81.59 L412.4,77.54 L412.9,75.38 L413.4,74.39 L413.9,72.91 L414.4,72.14 L414.9,69.63 L415.4,70.06 L415.9,69.72 L416.4,69.82 L416.9,68.95 L417.4,69.03 L417.9,68.12 L418.4,67.92 L418.9,68.28 L419.4,68.34 L419.9,69.01 L420.4,68.16 L420.9,69.26 L421.4,69.95 L421.9,69.38 L422.4,69.7 L422.9,69.81 L423.4,69.52 L423.9,69.23 L424.4,69.88 L424.9,69.42 L425.4,68.72 L425.9,70.48 L426.4,72.27 L426.9,74.39 L427.4,78.37 L427.9,82.21 L428.4,85.2 L428.9,87.86 L429.4,91.18 L429.9,92.41 L430.4,94.66 L430.9,94.99 L431.4,96.57 L431.9,97.26 L432.4,97.37 L432.9,99.75 L433.4,100.7 L433.9,101.74 L434.4,103.09 L434.9,103.54 L435.4,102.73 L435.9,103.37 L436.4,104.11 L436.9,104.13 L437.4,103.25 L437.9,103.88 L438.4,103.69 L438.9,103.39 L439.4,102.93 L439.9,102.67 L440.4,103.08 L440.9,103.48 L441.4,103.46 L441.9,102.74 L442.4,102.91 L442.9,103.68 L443.4,103.34 L443.9,103.42 L444.4,103.53 L444.9,103.78 L445.4,104.15 L445.9,103.79 L446.4,104.25 L446.9,103.01 L447.4,103.32 L447.9,104.1 L448.4,102.94 L448.9,103.17 L449.4,104.42 L449.9,102.75 L450.4,103.21 L450.9,102.65 L451.4,104.12 L451.9,103.34 L452.4,103.39 L452.9,103.49 L453.4,103.5 L453.9,103.11 L454.4,104.25 L454.9,104.14 L455.4,104.21 L455.9,103.84 L456.4,103.86 L456.9,103.43 L457.4,103.47 L457.9,103.58 L458.4,103.9 L458.9,103.8 L459.4,103.17 L459.9,103.26 L460.4,103.56 L460.9,103.75 L461.4,102.91 L461.9,103.87 L462.4,103.32 L462.9,103.1 L463.4,103.73 L463.9,103.25 L464.4,104.11 L464.9,103.17 L465.4,103.53 L465.9,104.33 L466.4,103.32 L466.9,104.02 L467.4,103.05 L467.9,103.93 L468.4,103.7 L468.9,103.5 L469.4,103.78 L469.9,103.52 L470.4,103.88 L470.9,103.34 L471.4,103.64 L471.9,103.55 L472.4,104.87 L472.9,103.13 L473.4,103.63 L473.9,104.44 L474.4,103.61 L474.9,103.44 L475.4,103.17 L475.9,104.14 L476.4,102.96 L476.9,103.73 L477.4,102.59 L477.9,103.73 L478.4,103.36 L478.9,103.83 L479.4,104.16 L479.9,103.18 L480.4,103.26 L480.9,102.98 L481.4,103.29 L481.9,103.93 L482.4,104.42 L482.9,103.97 L483.4,103.98 L483.9,104.04 L484.4,103.42 L484.9,103.54 L485.4,103.81 L485.9,103.61 L486.4,103.75 L486.9,103.59 L487.4,103.36 L487.9,103.26 L488.4,104 L488.9,104.37 L489.4,103.06 L489.9,103.65 L490.4,103.21 L490.9,104.44 L491.4,103.85 L491.9,103.69 L492.4,104.35 L492.9,103.94 L493.4,103.39 L493.9,103.23 L494.4,103 L494.9,104.1 L495.4,104.34 L495.9,103.49 L496.4,103.3 L496.9,103.64 L497.4,104.31 L497.9,103.38 L498.4,103.37 L498.9,103.48 L499.4,103.95 L499.9,103.6 L500.4,103.38 L500.9,103.98 L501.4,104.56 L501.9,103.59 L502.4,103.53 L502.9,103.74 L503.4,103.35 L503.9,104.01 L504.4,103.78 L504.9,103.88 L505.4,103.49" fill="none" stroke="#264a8b" stroke-width="0.9"/>
<g fill="#264a8b"><circle cx="405.4" cy="105.58" r="2"/><circle cx="405.9" cy="104.97" r="2"/><circle cx="406.4" cy="105.36" r="2"/><circle cx="406.9" cy="105.01" r="2"/><circle cx="407.4" cy="105.47" r="2"/><circle cx="407.9" cy="105.22" r="2"/><circle cx="408.4" cy="105.48" r="2"/><circle cx="408.9" cy="105.14" r="2"/><circle cx="409.4" cy="102.83" r="2"/><circle cx="409.9" cy="101.21" r="2"/><circle cx="410.4" cy="97.75" r="2"/><circle cx="410.9" cy="94.77" r="2"/><circle cx="411.4" cy="89.19" r="2"/><circle cx="411.9" cy="81.59" r="2"/><circle cx="412.4" cy="77.54" r="2"/><circle cx="412.9" cy="75.38" r="2"/><circle cx="413.4" cy="74.39" r="2"/><circle cx="413.9" cy="72.91" r="2"/><circle cx="414.4" cy="72.14" r="2"/><circle cx="414.9" cy="69.63" r="2"/><circle cx="415.4" cy="70.06" r="2"/><circle cx="415.9" cy="69.72" r="2"/><circle cx="416.4" cy="69.82" r="2"/><circle cx="416.9" cy="68.95" r="2"/><circle cx="417.4" cy="69.03" r="2"/><circle cx="417.9" cy="68.12" r="2"/><circle cx="418.4" cy="67.92" r="2"/><circle cx="418.9" cy="68.28" r="2"/><circle cx="419.4" cy="68.34" r="2"/><circle cx="419.9" cy="69.01" r="2"/><circle cx="420.4" cy="68.16" r="2"/><circle cx="420.9" cy="69.26" r="2"/><circle cx="421.4" cy="69.95" r="2"/><circle cx="421.9" cy="69.38" r="2"/><circle cx="422.4" cy="69.7" r="2"/><circle cx="422.9" cy="69.81" r="2"/><circle cx="423.4" cy="69.52" r="2"/><circle cx="423.9" cy="69.23" r="2"/><circle cx="424.4" cy="69.88" r="2"/><circle cx="424.9" cy="69.42" r="2"/><circle cx="425.4" cy="68.72" r="2"/><circle cx="425.9" cy="70.48" r="2"/><circle cx="426.4" cy="72.27" r="2"/><circle cx="426.9" cy="74.39" r="2"/><circle cx="427.4" cy="78.37" r="2"/><circle cx="427.9" cy="82.21" r="2"/><circle cx="428.4" cy="85.2" r="2"/><circle cx="428.9" cy="87.86" r="2"/><circle cx="429.4" cy="91.18" r="2"/><circle cx="429.9" cy="92.41" r="2"/><circle cx="430.4" cy="94.66" r="2"/><circle cx="430.9" cy="94.99" r="2"/><circle cx="431.4" cy="96.57" r="2"/><circle cx="431.9" cy="97.26" r="2"/><circle cx="432.4" cy="97.37" r="2"/><circle cx="432.9" cy="99.75" r="2"/><circle cx="433.4" cy="100.7" r="2"/><circle cx="433.9" cy="101.74" r="2"/><circle cx="434.4" cy="103.09" r="2"/><circle cx="434.9" cy="103.54" r="2"/><circle cx="435.4" cy="102.73" r="2"/><circle cx="435.9" cy="103.37" r="2"/><circle cx="436.4" cy="104.11" r="2"/><circle cx="436.9" cy="104.13" r="2"/><circle cx="437.4" cy="103.25" r="2"/><circle cx="437.9" cy="103.88" r="2"/><circle cx="438.4" cy="103.69" r="2"/><circle cx="438.9" cy="103.39" r="2"/><circle cx="439.4" cy="102.93" r="2"/><circle cx="439.9" cy="102.67" r="2"/><circle cx="440.4" cy="103.08" r="2"/><circle cx="440.9" cy="103.48" r="2"/><circle cx="441.4" cy="103.46" r="2"/><circle cx="441.9" cy="102.74" r="2"/><circle cx="442.4" cy="102.91" r="2"/><circle cx="442.9" cy="103.68" r="2"/><circle cx="443.4" cy="103.34" r="2"/><circle cx="443.9" cy="103.42" r="2"/><circle cx="444.4" cy="103.53" r="2"/><circle cx="444.9" cy="103.78" r="2"/><circle cx="445.4" cy="104.15" r="2"/><circle cx="445.9" cy="103.79" r="2"/><circle cx="446.4" cy="104.25" r="2"/><circle cx="446.9" cy="103.01" r="2"/><circle cx="447.4" cy="103.32" r="2"/><circle cx="447.9" cy="104.1" r="2"/><circle cx="448.4" cy="102.94" r="2"/><circle cx="448.9" cy="103.17" r="2"/><circle cx="449.4" cy="104.42" r="2"/><circle cx="449.9" cy="102.75" r="2"/><circle cx="450.4" cy="103.21" r="2"/><circle cx="450.9" cy="102.65" r="2"/><circle cx="451.4" cy="104.12" r="2"/><circle cx="451.9" cy="103.34" r="2"/><circle cx="452.4" cy="103.39" r="2"/><circle cx="452.9" cy="103.49" r="2"/><circle cx="453.4" cy="103.5" r="2"/><circle cx="453.9" cy="103.11" r="2"/><circle cx="454.4" cy="104.25" r="2"/><circle cx="454.9" cy="104.14" r="2"/><circle cx="455.4" cy="104.21" r="2"/><circle cx="455.9" cy="103.84" r="2"/><circle cx="456.4" cy="103.86" r="2"/><circle cx="456.9" cy="103.43" r="2"/><circle cx="457.4" cy="103.47" r="2"/><circle cx="457.9" cy="103.58" r="2"/><circle cx="458.4" cy="103.9" r="2"/><circle cx="458.9" cy="103.8" r="2"/><circle cx="459.4" cy="103.17" r="2"/><circle cx="459.9" cy="103.26" r="2"/><circle cx="460.4" cy="103.56" r="2"/><circle cx="460.9" cy="103.75" r="2"/><circle cx="461.4" cy="102.91" r="2"/><circle cx="461.9" cy="103.87" r="2"/><circle cx="462.4" cy="103.32" r="2"/><circle cx="462.9" cy="103.1" r="2"/><circle cx="463.4" cy="103.73" r="2"/><circle cx="463.9" cy="103.25" r="2"/><circle cx="464.4" cy="104.11" r="2"/><circle cx="464.9" cy="103.17" r="2"/><circle cx="465.4" cy="103.53" r="2"/><circle cx="465.9" cy="104.33" r="2"/><circle cx="466.4" cy="103.32" r="2"/><circle cx="466.9" cy="104.02" r="2"/><circle cx="467.4" cy="103.05" r="2"/><circle cx="467.9" cy="103.93" r="2"/><circle cx="468.4" cy="103.7" r="2"/><circle cx="468.9" cy="103.5" r="2"/><circle cx="469.4" cy="103.78" r="2"/><circle cx="469.9" cy="103.52" r="2"/><circle cx="470.4" cy="103.88" r="2"/><circle cx="470.9" cy="103.34" r="2"/><circle cx="471.4" cy="103.64" r="2"/><circle cx="471.9" cy="103.55" r="2"/><circle cx="472.4" cy="104.87" r="2"/><circle cx="472.9" cy="103.13" r="2"/><circle cx="473.4" cy="103.63" r="2"/><circle cx="473.9" cy="104.44" r="2"/><circle cx="474.4" cy="103.61" r="2"/><circle cx="474.9" cy="103.44" r="2"/><circle cx="475.4" cy="103.17" r="2"/><circle cx="475.9" cy="104.14" r="2"/><circle cx="476.4" cy="102.96" r="2"/><circle cx="476.9" cy="103.73" r="2"/><circle cx="477.4" cy="102.59" r="2"/><circle cx="477.9" cy="103.73" r="2"/><circle cx="478.4" cy="103.36" r="2"/><circle cx="478.9" cy="103.83" r="2"/><circle cx="479.4" cy="104.16" r="2"/><circle cx="479.9" cy="103.18" r="2"/><circle cx="480.4" cy="103.26" r="2"/><circle cx="480.9" cy="102.98" r="2"/><circle cx="481.4" cy="103.29" r="2"/><circle cx="481.9" cy="103.93" r="2"/><circle cx="482.4" cy="104.42" r="2"/><circle cx="482.9" cy="103.97" r="2"/><circle cx="483.4" cy="103.98" r="2"/><circle cx="483.9" cy="104.04" r="2"/><circle cx="484.4" cy="103.42" r="2"/><circle cx="484.9" cy="103.54" r="2"/><circle cx="485.4" cy="103.81" r="2"/><circle cx="485.9" cy="103.61" r="2"/><circle cx="486.4" cy="103.75" r="2"/><circle cx="486.9" cy="103.59" r="2"/><circle cx="487.4" cy="103.36" r="2"/><circle cx="487.9" cy="103.26" r="2"/><circle cx="488.4" cy="104" r="2"/><circle cx="488.9" cy="104.37" r="2"/><circle cx="489.4" cy="103.06" r="2"/><circle cx="489.9" cy="103.65" r="2"/><circle cx="490.4" cy="103.21" r="2"/><circle cx="490.9" cy="104.44" r="2"/><circle cx="491.4" cy="103.85" r="2"/><circle cx="491.9" cy="103.69" r="2"/><circle cx="492.4" cy="104.35" r="2"/><circle cx="492.9" cy="103.94" r="2"/><circle cx="493.4" cy="103.39" r="2"/><circle cx="493.9" cy="103.23" r="2"/><circle cx="494.4" cy="103" r="2"/><circle cx="494.9" cy="104.1" r="2"/><circle cx="495.4" cy="104.34" r="2"/><circle cx="495.9" cy="103.49" r="2"/><circle cx="496.4" cy="103.3" r="2"/><circle cx="496.9" cy="103.64" r="2"/><circle cx="497.4" cy="104.31" r="2"/><circle cx="497.9" cy="103.38" r="2"/><circle cx="498.4" cy="103.37" r="2"/><circle cx="498.9" cy="103.48" r="2"/><circle cx="499.4" cy="103.95" r="2"/><circle cx="499.9" cy="103.6" r="2"/><circle cx="500.4" cy="103.38" r="2"/><circle cx="500.9" cy="103.98" r="2"/><circle cx="501.4" cy="104.56" r="2"/><circle cx="501.9" cy="103.59" r="2"/><circle cx="502.4" cy="103.53" r="2"/><circle cx="502.9" cy="103.74" r="2"/><circle cx="503.4" cy="103.35" r="2"/><circle cx="503.9" cy="104.01" r="2"/><circle cx="504.4" cy="103.78" r="2"/><circle cx="504.9" cy="103.88" r="2"/><circle cx="505.4" cy="103.49" r="2"/></g>
<line x1="405.4" y1="37.3" x2="405.4" y2="107.75" stroke="#231f20" stroke-width="1.3"/>
<line x1="402" y1="107.1" x2="405.4" y2="107.1" stroke="#231f20" stroke-width="1.3"/>
<text transform="translate(398.8,110.2) scale(0.9,1)" font-size="9.1" text-anchor="end">0.00</text>
<line x1="402" y1="84.77" x2="405.4" y2="84.77" stroke="#231f20" stroke-width="1.3"/>
<text transform="translate(398.8,87.87) scale(0.9,1)" font-size="9.1" text-anchor="end">0.01</text>
<line x1="402" y1="62.43" x2="405.4" y2="62.43" stroke="#231f20" stroke-width="1.3"/>
<text transform="translate(398.8,65.53) scale(0.9,1)" font-size="9.1" text-anchor="end">0.02</text>
<line x1="402" y1="40.1" x2="405.4" y2="40.1" stroke="#231f20" stroke-width="1.3"/>
<text transform="translate(398.8,43.2) scale(0.9,1)" font-size="9.1" text-anchor="end">0.03</text>
<text transform="translate(364.8,105.16) rotate(-90) scale(0.81,1)" font-size="10.2">Fibrin formation &amp;</text>
<text transform="translate(376.3,105.64) rotate(-90) scale(0.82,1)" font-size="10.2">lysis (Abs 405nm)</text>
<line x1="402" y1="107.1" x2="507.9" y2="107.1" stroke="#231f20" stroke-width="1.3"/>
<line x1="405.4" y1="107.1" x2="405.4" y2="110.1" stroke="#231f20" stroke-width="1"/>
<text transform="translate(405.4,120.8) scale(0.9,1)" font-size="9.1" text-anchor="middle">0</text>
<line x1="422.07" y1="107.1" x2="422.07" y2="110.1" stroke="#231f20" stroke-width="1"/>
<text transform="translate(422.07,120.8) scale(0.9,1)" font-size="9.1" text-anchor="middle">5</text>
<line x1="438.73" y1="107.1" x2="438.73" y2="110.1" stroke="#231f20" stroke-width="1"/>
<text transform="translate(438.73,120.8) scale(0.9,1)" font-size="9.1" text-anchor="middle">10</text>
<line x1="455.4" y1="107.1" x2="455.4" y2="110.1" stroke="#231f20" stroke-width="1"/>
<text transform="translate(455.4,120.8) scale(0.9,1)" font-size="9.1" text-anchor="middle">15</text>
<line x1="472.07" y1="107.1" x2="472.07" y2="110.1" stroke="#231f20" stroke-width="1"/>
<text transform="translate(472.07,120.8) scale(0.9,1)" font-size="9.1" text-anchor="middle">20</text>
<line x1="488.73" y1="107.1" x2="488.73" y2="110.1" stroke="#231f20" stroke-width="1"/>
<text transform="translate(488.73,120.8) scale(0.9,1)" font-size="9.1" text-anchor="middle">25</text>
<line x1="505.4" y1="107.1" x2="505.4" y2="110.1" stroke="#231f20" stroke-width="1"/>
<text transform="translate(505.4,120.8) scale(0.9,1)" font-size="9.1" text-anchor="middle">30</text>
<text transform="translate(456.9,134.7) scale(0.83,1)" font-size="10.2" text-anchor="middle">Time (min)</text>
<line x1="447.1" y1="25.5" x2="454.7" y2="25.5" stroke="#264a8b" stroke-width="1"/>
<circle cx="450.9" cy="25.5" r="1.75" fill="#fff" stroke="#264a8b" stroke-width="1.0"/>
<line x1="447.1" y1="25.5" x2="454.7" y2="25.5" stroke="#264a8b" stroke-width="0.8"/>
<text transform="translate(457.7,28.4)" font-size="8.2">CD 0.5 pM TF</text>
<line x1="447.1" y1="35.2" x2="454.7" y2="35.2" stroke="#b3173b" stroke-width="1"/>
<circle cx="450.9" cy="35.2" r="1.75" fill="#fff" stroke="#b3173b" stroke-width="1.0"/>
<line x1="447.1" y1="35.2" x2="454.7" y2="35.2" stroke="#b3173b" stroke-width="0.8"/>
<text transform="translate(457.7,38.1)" font-size="8.2">HFD 0.5 pM TF</text>
<text transform="translate(355.6,17.7)" font-size="12.6" font-weight="bold" fill="#000">M</text>
<rect x="59.4" y="205.96" width="15.8" height="25.54" fill="#b8bdd8"/>
<rect x="84.2" y="214.21" width="15.8" height="17.29" fill="#e2bdb1"/>
<rect x="109.3" y="219" width="15.8" height="12.5" fill="#b8bdd8"/>
<rect x="134.3" y="222.99" width="15.8" height="8.51" fill="#e2bdb1"/>
<circle cx="60.9" cy="204.9" r="1.7" fill="none" stroke="#264a8b" stroke-width="1.1"/>
<circle cx="67.3" cy="204.9" r="1.7" fill="none" stroke="#264a8b" stroke-width="1.1"/>
<circle cx="73.7" cy="204.9" r="1.7" fill="none" stroke="#264a8b" stroke-width="1.1"/>
<circle cx="67.3" cy="209.56" r="1.7" fill="none" stroke="#264a8b" stroke-width="1.1"/>
<circle cx="67.3" cy="213.54" r="1.7" fill="none" stroke="#264a8b" stroke-width="1.1"/>
<circle cx="92.1" cy="204.9" r="1.7" fill="none" stroke="#b3173b" stroke-width="1.1"/>
<circle cx="92.1" cy="209.56" r="1.7" fill="none" stroke="#b3173b" stroke-width="1.1"/>
<circle cx="92.1" cy="213.54" r="1.7" fill="none" stroke="#b3173b" stroke-width="1.1"/>
<circle cx="88.8" cy="217.53" r="1.7" fill="none" stroke="#b3173b" stroke-width="1.1"/>
<circle cx="95.4" cy="217.53" r="1.7" fill="none" stroke="#b3173b" stroke-width="1.1"/>
<circle cx="110.4" cy="218.6" r="2.0" fill="#264a8b"/>
<circle cx="114.8" cy="218.6" r="2.0" fill="#264a8b"/>
<circle cx="119.5" cy="218.6" r="2.0" fill="#264a8b"/>
<circle cx="124.2" cy="218.6" r="2.0" fill="#264a8b"/>
<circle cx="117.2" cy="222.19" r="2.0" fill="#264a8b"/>
<circle cx="138.7" cy="218.47" r="2.0" fill="#b3173b"/>
<circle cx="145.6" cy="218.47" r="2.0" fill="#b3173b"/>
<circle cx="138.7" cy="222.19" r="2.0" fill="#b3173b"/>
<circle cx="145.6" cy="222.19" r="2.0" fill="#b3173b"/>
<circle cx="142.2" cy="226.98" r="2.0" fill="#b3173b"/>
<line x1="104.6" y1="164.5" x2="104.6" y2="231.5" stroke="#333" stroke-width="1.3" stroke-dasharray="3.2,2.2"/>
<line x1="54.8" y1="162.2" x2="54.8" y2="232.15" stroke="#231f20" stroke-width="1.3"/>
<line x1="51.4" y1="231.5" x2="54.8" y2="231.5" stroke="#231f20" stroke-width="1.3"/>
<text transform="translate(48.2,234.6) scale(0.9,1)" font-size="9.1" text-anchor="end">0</text>
<line x1="51.4" y1="218.2" x2="54.8" y2="218.2" stroke="#231f20" stroke-width="1.3"/>
<text transform="translate(48.2,221.3) scale(0.9,1)" font-size="9.1" text-anchor="end">1</text>
<line x1="51.4" y1="204.9" x2="54.8" y2="204.9" stroke="#231f20" stroke-width="1.3"/>
<text transform="translate(48.2,208) scale(0.9,1)" font-size="9.1" text-anchor="end">2</text>
<line x1="51.4" y1="191.6" x2="54.8" y2="191.6" stroke="#231f20" stroke-width="1.3"/>
<text transform="translate(48.2,194.7) scale(0.9,1)" font-size="9.1" text-anchor="end">3</text>
<line x1="51.4" y1="178.3" x2="54.8" y2="178.3" stroke="#231f20" stroke-width="1.3"/>
<text transform="translate(48.2,181.4) scale(0.9,1)" font-size="9.1" text-anchor="end">4</text>
<line x1="51.4" y1="165" x2="54.8" y2="165" stroke="#231f20" stroke-width="1.3"/>
<text transform="translate(48.2,168.1) scale(0.9,1)" font-size="9.1" text-anchor="end">5</text>
<text transform="translate(38.2,226.26) rotate(-90) scale(0.79,1)" font-size="10.2">TG lagtime (min)</text>
<line x1="51.4" y1="231.5" x2="155.2" y2="231.5" stroke="#231f20" stroke-width="1.3"/>
<line x1="67.3" y1="231.5" x2="67.3" y2="234.9" stroke="#231f20" stroke-width="1.1"/>
<line x1="92.1" y1="231.5" x2="92.1" y2="234.9" stroke="#231f20" stroke-width="1.1"/>
<line x1="117.2" y1="231.5" x2="117.2" y2="234.9" stroke="#231f20" stroke-width="1.1"/>
<line x1="142.2" y1="231.5" x2="142.2" y2="234.9" stroke="#231f20" stroke-width="1.1"/>
<text transform="translate(67.3,245.4)" font-size="9.2" text-anchor="middle">CD</text>
<text transform="translate(92.1,245.4)" font-size="9.2" text-anchor="middle">HFD</text>
<text transform="translate(117.2,245.4)" font-size="9.2" text-anchor="middle">CD</text>
<text transform="translate(142.2,245.4)" font-size="9.2" text-anchor="middle">HFD</text>
<text transform="translate(7.8,157.5)" font-size="12.6" font-weight="bold" fill="#000">B</text>
<rect x="59.4" y="309.43" width="15.8" height="32.17" fill="#b8bdd8"/>
<rect x="84.2" y="316.66" width="15.8" height="24.94" fill="#e2bdb1"/>
<rect x="109.3" y="323.89" width="15.8" height="17.71" fill="#b8bdd8"/>
<rect x="134.3" y="326.8" width="15.8" height="14.8" fill="#e2bdb1"/>
<circle cx="60.9" cy="308.52" r="1.7" fill="none" stroke="#264a8b" stroke-width="1.1"/>
<circle cx="67.3" cy="305.61" r="1.7" fill="none" stroke="#264a8b" stroke-width="1.1"/>
<circle cx="73.7" cy="308.52" r="1.7" fill="none" stroke="#264a8b" stroke-width="1.1"/>
<circle cx="67.3" cy="311.76" r="1.7" fill="none" stroke="#264a8b" stroke-width="1.1"/>
<circle cx="67.3" cy="316.66" r="1.7" fill="none" stroke="#264a8b" stroke-width="1.1"/>
<circle cx="92.1" cy="308.52" r="1.7" fill="none" stroke="#b3173b" stroke-width="1.1"/>
<circle cx="89.6" cy="313.67" r="1.7" fill="none" stroke="#b3173b" stroke-width="1.1"/>
<circle cx="85.4" cy="316.66" r="1.7" fill="none" stroke="#b3173b" stroke-width="1.1"/>
<circle cx="94.4" cy="316.66" r="1.7" fill="none" stroke="#b3173b" stroke-width="1.1"/>
<circle cx="99" cy="314.09" r="1.7" fill="none" stroke="#b3173b" stroke-width="1.1"/>
<circle cx="110.6" cy="322.56" r="2.0" fill="#264a8b"/>
<circle cx="115.2" cy="322.56" r="2.0" fill="#264a8b"/>
<circle cx="123.7" cy="322.56" r="2.0" fill="#264a8b"/>
<circle cx="119.4" cy="325.22" r="2.0" fill="#264a8b"/>
<circle cx="114.8" cy="327.72" r="2.0" fill="#264a8b"/>
<circle cx="135.4" cy="322.56" r="2.0" fill="#b3173b"/>
<circle cx="139.8" cy="324.89" r="2.0" fill="#b3173b"/>
<circle cx="148.7" cy="325.22" r="2.0" fill="#b3173b"/>
<circle cx="135.4" cy="327.72" r="2.0" fill="#b3173b"/>
<circle cx="144" cy="327.72" r="2.0" fill="#b3173b"/>
<line x1="104.6" y1="274.6" x2="104.6" y2="341.6" stroke="#333" stroke-width="1.3" stroke-dasharray="3.2,2.2"/>
<line x1="54.8" y1="272.3" x2="54.8" y2="342.25" stroke="#231f20" stroke-width="1.3"/>
<line x1="51.4" y1="341.6" x2="54.8" y2="341.6" stroke="#231f20" stroke-width="1.3"/>
<text transform="translate(48.2,344.7) scale(0.9,1)" font-size="9.1" text-anchor="end">0</text>
<line x1="51.4" y1="324.98" x2="54.8" y2="324.98" stroke="#231f20" stroke-width="1.3"/>
<text transform="translate(48.2,328.08) scale(0.9,1)" font-size="9.1" text-anchor="end">2</text>
<line x1="51.4" y1="308.35" x2="54.8" y2="308.35" stroke="#231f20" stroke-width="1.3"/>
<text transform="translate(48.2,311.45) scale(0.9,1)" font-size="9.1" text-anchor="end">4</text>
<line x1="51.4" y1="291.73" x2="54.8" y2="291.73" stroke="#231f20" stroke-width="1.3"/>
<text transform="translate(48.2,294.83) scale(0.9,1)" font-size="9.1" text-anchor="end">6</text>
<line x1="51.4" y1="275.1" x2="54.8" y2="275.1" stroke="#231f20" stroke-width="1.3"/>
<text transform="translate(48.2,278.2) scale(0.9,1)" font-size="9.1" text-anchor="end">8</text>
<text transform="translate(38.2,334.05) rotate(-90) scale(0.74,1)" font-size="10.2">TG TtPeak (min)</text>
<line x1="51.4" y1="341.6" x2="155.2" y2="341.6" stroke="#231f20" stroke-width="1.3"/>
<line x1="67.3" y1="341.6" x2="67.3" y2="345" stroke="#231f20" stroke-width="1.1"/>
<line x1="92.1" y1="341.6" x2="92.1" y2="345" stroke="#231f20" stroke-width="1.1"/>
<line x1="117.2" y1="341.6" x2="117.2" y2="345" stroke="#231f20" stroke-width="1.1"/>
<line x1="142.2" y1="341.6" x2="142.2" y2="345" stroke="#231f20" stroke-width="1.1"/>
<text transform="translate(67.3,355.5)" font-size="9.2" text-anchor="middle">CD</text>
<text transform="translate(92.1,355.5)" font-size="9.2" text-anchor="middle">HFD</text>
<text transform="translate(117.2,355.5)" font-size="9.2" text-anchor="middle">CD</text>
<text transform="translate(142.2,355.5)" font-size="9.2" text-anchor="middle">HFD</text>
<text transform="translate(7.8,267.9)" font-size="12.6" font-weight="bold" fill="#000">C</text>
<rect x="59.4" y="441.31" width="15.8" height="10.99" fill="#b8bdd8"/>
<rect x="84.2" y="434.21" width="15.8" height="18.09" fill="#e2bdb1"/>
<rect x="109.3" y="424.95" width="15.8" height="27.35" fill="#b8bdd8"/>
<rect x="134.3" y="407.61" width="15.8" height="44.69" fill="#e2bdb1"/>
<circle cx="60.9" cy="434.57" r="1.7" fill="none" stroke="#264a8b" stroke-width="1.1"/>
<circle cx="60.9" cy="441.88" r="1.7" fill="none" stroke="#264a8b" stroke-width="1.1"/>
<circle cx="67.3" cy="439.89" r="1.7" fill="none" stroke="#264a8b" stroke-width="1.1"/>
<circle cx="73.7" cy="437.23" r="1.7" fill="none" stroke="#264a8b" stroke-width="1.1"/>
<circle cx="73.7" cy="441.31" r="1.7" fill="none" stroke="#264a8b" stroke-width="1.1"/>
<circle cx="88.8" cy="429.25" r="1.7" fill="none" stroke="#b3173b" stroke-width="1.1"/>
<circle cx="88.8" cy="433.06" r="1.7" fill="none" stroke="#b3173b" stroke-width="1.1"/>
<circle cx="88.8" cy="437.49" r="1.7" fill="none" stroke="#b3173b" stroke-width="1.1"/>
<circle cx="95.4" cy="429.25" r="1.7" fill="none" stroke="#b3173b" stroke-width="1.1"/>
<circle cx="95.4" cy="436.52" r="1.7" fill="none" stroke="#b3173b" stroke-width="1.1"/>
<circle cx="114" cy="406.64" r="2.0" fill="#264a8b"/>
<circle cx="120.8" cy="407.97" r="2.0" fill="#264a8b"/>
<circle cx="110.8" cy="425.52" r="2.0" fill="#264a8b"/>
<circle cx="117.2" cy="423.62" r="2.0" fill="#264a8b"/>
<circle cx="123.8" cy="423.97" r="2.0" fill="#264a8b"/>
<circle cx="142.2" cy="396" r="2.0" fill="#b3173b"/>
<circle cx="142.2" cy="400.87" r="2.0" fill="#b3173b"/>
<circle cx="142.2" cy="406.64" r="2.0" fill="#b3173b"/>
<circle cx="138.8" cy="419.54" r="2.0" fill="#b3173b"/>
<circle cx="145.4" cy="416.3" r="2.0" fill="#b3173b"/>
<line x1="104.6" y1="385.3" x2="104.6" y2="452.3" stroke="#333" stroke-width="1.3" stroke-dasharray="3.2,2.2"/>
<line x1="54.8" y1="383" x2="54.8" y2="452.95" stroke="#231f20" stroke-width="1.3"/>
<line x1="51.4" y1="452.3" x2="54.8" y2="452.3" stroke="#231f20" stroke-width="1.3"/>
<text transform="translate(48.2,455.4) scale(0.9,1)" font-size="9.1" text-anchor="end">0</text>
<line x1="51.4" y1="430.13" x2="54.8" y2="430.13" stroke="#231f20" stroke-width="1.3"/>
<text transform="translate(48.2,433.23) scale(0.9,1)" font-size="9.1" text-anchor="end">50</text>
<line x1="51.4" y1="407.97" x2="54.8" y2="407.97" stroke="#231f20" stroke-width="1.3"/>
<text transform="translate(48.2,411.07) scale(0.9,1)" font-size="9.1" text-anchor="end">100</text>
<line x1="51.4" y1="385.8" x2="54.8" y2="385.8" stroke="#231f20" stroke-width="1.3"/>
<text transform="translate(48.2,388.9) scale(0.9,1)" font-size="9.1" text-anchor="end">150</text>
<text transform="translate(28.6,454.66) rotate(-90) scale(0.79,1)" font-size="10.2">TG velocity (nM/min)</text>
<line x1="51.4" y1="452.3" x2="155.2" y2="452.3" stroke="#231f20" stroke-width="1.3"/>
<line x1="67.3" y1="452.3" x2="67.3" y2="455.7" stroke="#231f20" stroke-width="1.1"/>
<line x1="92.1" y1="452.3" x2="92.1" y2="455.7" stroke="#231f20" stroke-width="1.1"/>
<line x1="117.2" y1="452.3" x2="117.2" y2="455.7" stroke="#231f20" stroke-width="1.1"/>
<line x1="142.2" y1="452.3" x2="142.2" y2="455.7" stroke="#231f20" stroke-width="1.1"/>
<text transform="translate(67.3,466.2)" font-size="9.2" text-anchor="middle">CD</text>
<text transform="translate(92.1,466.2)" font-size="9.2" text-anchor="middle">HFD</text>
<text transform="translate(117.2,466.2)" font-size="9.2" text-anchor="middle">CD</text>
<text transform="translate(142.2,466.2)" font-size="9.2" text-anchor="middle">HFD</text>
<line x1="67.8" y1="394.4" x2="92" y2="394.4" stroke="#231f20" stroke-width="1.2"/>
<text transform="translate(80.2,391) scale(0.97,1)" font-size="8.1" text-anchor="middle" font-style="italic" stroke="#231f20" stroke-width="0.25">P=0.031</text>
<text transform="translate(7.8,378.3)" font-size="12.6" font-weight="bold" fill="#000">D</text>
<rect x="59.4" y="541.05" width="15.8" height="21.55" fill="#b8bdd8"/>
<rect x="84.2" y="530.11" width="15.8" height="32.49" fill="#e2bdb1"/>
<rect x="109.3" y="531.06" width="15.8" height="31.54" fill="#b8bdd8"/>
<rect x="134.3" y="518.94" width="15.8" height="43.66" fill="#e2bdb1"/>
<circle cx="60.9" cy="542.99" r="1.7" fill="none" stroke="#264a8b" stroke-width="1.1"/>
<circle cx="63.8" cy="536.65" r="1.7" fill="none" stroke="#264a8b" stroke-width="1.1"/>
<circle cx="67.3" cy="540.48" r="1.7" fill="none" stroke="#264a8b" stroke-width="1.1"/>
<circle cx="70.8" cy="536.65" r="1.7" fill="none" stroke="#264a8b" stroke-width="1.1"/>
<circle cx="73.7" cy="541.05" r="1.7" fill="none" stroke="#264a8b" stroke-width="1.1"/>
<circle cx="92.1" cy="522.78" r="1.7" fill="none" stroke="#b3173b" stroke-width="1.1"/>
<circle cx="88.8" cy="530.11" r="1.7" fill="none" stroke="#b3173b" stroke-width="1.1"/>
<circle cx="95.4" cy="530.11" r="1.7" fill="none" stroke="#b3173b" stroke-width="1.1"/>
<circle cx="88.8" cy="536.65" r="1.7" fill="none" stroke="#b3173b" stroke-width="1.1"/>
<circle cx="95.4" cy="535.28" r="1.7" fill="none" stroke="#b3173b" stroke-width="1.1"/>
<circle cx="114" cy="523.38" r="2.0" fill="#264a8b"/>
<circle cx="120.8" cy="524.71" r="2.0" fill="#264a8b"/>
<circle cx="110.8" cy="531.44" r="2.0" fill="#264a8b"/>
<circle cx="117.2" cy="529.54" r="2.0" fill="#264a8b"/>
<circle cx="123.8" cy="530.11" r="2.0" fill="#264a8b"/>
<circle cx="142.2" cy="510.69" r="2.0" fill="#b3173b"/>
<circle cx="142.2" cy="514.53" r="2.0" fill="#b3173b"/>
<circle cx="138.8" cy="518.56" r="2.0" fill="#b3173b"/>
<circle cx="145.4" cy="521.26" r="2.0" fill="#b3173b"/>
<circle cx="138.8" cy="525.09" r="2.0" fill="#b3173b"/>
<line x1="104.6" y1="495.6" x2="104.6" y2="562.6" stroke="#333" stroke-width="1.3" stroke-dasharray="3.2,2.2"/>
<line x1="54.8" y1="493.3" x2="54.8" y2="563.25" stroke="#231f20" stroke-width="1.3"/>
<line x1="51.4" y1="562.6" x2="54.8" y2="562.6" stroke="#231f20" stroke-width="1.3"/>
<text transform="translate(48.2,565.7) scale(0.9,1)" font-size="9.1" text-anchor="end">0</text>
<line x1="51.4" y1="553.1" x2="54.8" y2="553.1" stroke="#231f20" stroke-width="1.3"/>
<text transform="translate(48.2,556.2) scale(0.9,1)" font-size="9.1" text-anchor="end">25</text>
<line x1="51.4" y1="543.6" x2="54.8" y2="543.6" stroke="#231f20" stroke-width="1.3"/>
<text transform="translate(48.2,546.7) scale(0.9,1)" font-size="9.1" text-anchor="end">50</text>
<line x1="51.4" y1="534.1" x2="54.8" y2="534.1" stroke="#231f20" stroke-width="1.3"/>
<text transform="translate(48.2,537.2) scale(0.9,1)" font-size="9.1" text-anchor="end">75</text>
<line x1="51.4" y1="524.6" x2="54.8" y2="524.6" stroke="#231f20" stroke-width="1.3"/>
<text transform="translate(48.2,527.7) scale(0.9,1)" font-size="9.1" text-anchor="end">100</text>
<line x1="51.4" y1="515.1" x2="54.8" y2="515.1" stroke="#231f20" stroke-width="1.3"/>
<text transform="translate(48.2,518.2) scale(0.9,1)" font-size="9.1" text-anchor="end">125</text>
<line x1="51.4" y1="505.6" x2="54.8" y2="505.6" stroke="#231f20" stroke-width="1.3"/>
<text transform="translate(48.2,508.7) scale(0.9,1)" font-size="9.1" text-anchor="end">150</text>
<line x1="51.4" y1="496.1" x2="54.8" y2="496.1" stroke="#231f20" stroke-width="1.3"/>
<text transform="translate(48.2,499.2) scale(0.9,1)" font-size="9.1" text-anchor="end">175</text>
<text transform="translate(28.8,551.86) rotate(-90) scale(0.76,1)" font-size="10.2">TG peak (nM)</text>
<line x1="51.4" y1="562.6" x2="155.2" y2="562.6" stroke="#231f20" stroke-width="1.3"/>
<line x1="67.3" y1="562.6" x2="67.3" y2="566" stroke="#231f20" stroke-width="1.1"/>
<line x1="92.1" y1="562.6" x2="92.1" y2="566" stroke="#231f20" stroke-width="1.1"/>
<line x1="117.2" y1="562.6" x2="117.2" y2="566" stroke="#231f20" stroke-width="1.1"/>
<line x1="142.2" y1="562.6" x2="142.2" y2="566" stroke="#231f20" stroke-width="1.1"/>
<text transform="translate(67.3,576.5)" font-size="9.2" text-anchor="middle">CD</text>
<text transform="translate(92.1,576.5)" font-size="9.2" text-anchor="middle">HFD</text>
<text transform="translate(117.2,576.5)" font-size="9.2" text-anchor="middle">CD</text>
<text transform="translate(142.2,576.5)" font-size="9.2" text-anchor="middle">HFD</text>
<line x1="68" y1="504.1" x2="92" y2="504.1" stroke="#231f20" stroke-width="1.2"/>
<text transform="translate(80.3,501.4) scale(0.97,1)" font-size="8.1" text-anchor="middle" font-style="italic" stroke="#231f20" stroke-width="0.25">P=0.013</text>
<line x1="116.4" y1="504.1" x2="140.6" y2="504.1" stroke="#231f20" stroke-width="1.2"/>
<text transform="translate(128.8,501.4) scale(0.97,1)" font-size="8.1" text-anchor="middle" font-style="italic" stroke="#231f20" stroke-width="0.25">P=0.010</text>
<text transform="translate(7.8,488.7)" font-size="12.6" font-weight="bold" fill="#000">E</text>
<rect x="59.4" y="641.15" width="15.8" height="31.65" fill="#b8bdd8"/>
<rect x="84.2" y="635.03" width="15.8" height="37.77" fill="#e2bdb1"/>
<rect x="109.3" y="638.29" width="15.8" height="34.51" fill="#b8bdd8"/>
<rect x="134.3" y="630.24" width="15.8" height="42.56" fill="#e2bdb1"/>
<circle cx="60.9" cy="639.42" r="1.7" fill="none" stroke="#264a8b" stroke-width="1.1"/>
<circle cx="67.3" cy="635.63" r="1.7" fill="none" stroke="#264a8b" stroke-width="1.1"/>
<circle cx="67.3" cy="641.74" r="1.7" fill="none" stroke="#264a8b" stroke-width="1.1"/>
<circle cx="67.3" cy="645.6" r="1.7" fill="none" stroke="#264a8b" stroke-width="1.1"/>
<circle cx="73.7" cy="640.81" r="1.7" fill="none" stroke="#264a8b" stroke-width="1.1"/>
<circle cx="92.1" cy="625.85" r="1.7" fill="none" stroke="#b3173b" stroke-width="1.1"/>
<circle cx="85.4" cy="631.77" r="1.7" fill="none" stroke="#b3173b" stroke-width="1.1"/>
<circle cx="85.4" cy="635.63" r="1.7" fill="none" stroke="#b3173b" stroke-width="1.1"/>
<circle cx="92.1" cy="633.5" r="1.7" fill="none" stroke="#b3173b" stroke-width="1.1"/>
<circle cx="99" cy="633.7" r="1.7" fill="none" stroke="#b3173b" stroke-width="1.1"/>
<circle cx="117.2" cy="631.77" r="2.0" fill="#264a8b"/>
<circle cx="110.8" cy="635.63" r="2.0" fill="#264a8b"/>
<circle cx="117.2" cy="636.56" r="2.0" fill="#264a8b"/>
<circle cx="110.8" cy="640.21" r="2.0" fill="#264a8b"/>
<circle cx="123.8" cy="638.29" r="2.0" fill="#264a8b"/>
<circle cx="138.8" cy="619.67" r="2.0" fill="#b3173b"/>
<circle cx="145.4" cy="620.07" r="2.0" fill="#b3173b"/>
<circle cx="135.4" cy="631.17" r="2.0" fill="#b3173b"/>
<circle cx="142.2" cy="629.31" r="2.0" fill="#b3173b"/>
<circle cx="148.7" cy="629.84" r="2.0" fill="#b3173b"/>
<line x1="104.6" y1="605.8" x2="104.6" y2="672.8" stroke="#333" stroke-width="1.3" stroke-dasharray="3.2,2.2"/>
<line x1="54.8" y1="603.5" x2="54.8" y2="673.45" stroke="#231f20" stroke-width="1.3"/>
<line x1="51.4" y1="672.8" x2="54.8" y2="672.8" stroke="#231f20" stroke-width="1.3"/>
<text transform="translate(48.2,675.9) scale(0.9,1)" font-size="9.1" text-anchor="end">0</text>
<line x1="51.4" y1="659.5" x2="54.8" y2="659.5" stroke="#231f20" stroke-width="1.3"/>
<text transform="translate(48.2,662.6) scale(0.9,1)" font-size="9.1" text-anchor="end">200</text>
<line x1="51.4" y1="646.2" x2="54.8" y2="646.2" stroke="#231f20" stroke-width="1.3"/>
<text transform="translate(48.2,649.3) scale(0.9,1)" font-size="9.1" text-anchor="end">400</text>
<line x1="51.4" y1="632.9" x2="54.8" y2="632.9" stroke="#231f20" stroke-width="1.3"/>
<text transform="translate(48.2,636) scale(0.9,1)" font-size="9.1" text-anchor="end">600</text>
<line x1="51.4" y1="619.6" x2="54.8" y2="619.6" stroke="#231f20" stroke-width="1.3"/>
<text transform="translate(48.2,622.7) scale(0.9,1)" font-size="9.1" text-anchor="end">800</text>
<line x1="51.4" y1="606.3" x2="54.8" y2="606.3" stroke="#231f20" stroke-width="1.3"/>
<text transform="translate(48.2,609.4) scale(0.9,1)" font-size="9.1" text-anchor="end">1000</text>
<text transform="translate(24.2,662.83) rotate(-90) scale(0.78,1)" font-size="10.2">ETP (nM·min)</text>
<line x1="51.4" y1="672.8" x2="155.2" y2="672.8" stroke="#231f20" stroke-width="1.3"/>
<line x1="67.3" y1="672.8" x2="67.3" y2="676.2" stroke="#231f20" stroke-width="1.1"/>
<line x1="92.1" y1="672.8" x2="92.1" y2="676.2" stroke="#231f20" stroke-width="1.1"/>
<line x1="117.2" y1="672.8" x2="117.2" y2="676.2" stroke="#231f20" stroke-width="1.1"/>
<line x1="142.2" y1="672.8" x2="142.2" y2="676.2" stroke="#231f20" stroke-width="1.1"/>
<text transform="translate(67.3,686.7)" font-size="9.2" text-anchor="middle">CD</text>
<text transform="translate(92.1,686.7)" font-size="9.2" text-anchor="middle">HFD</text>
<text transform="translate(117.2,686.7)" font-size="9.2" text-anchor="middle">CD</text>
<text transform="translate(142.2,686.7)" font-size="9.2" text-anchor="middle">HFD</text>
<line x1="68" y1="614.1" x2="92" y2="614.1" stroke="#231f20" stroke-width="1.2"/>
<text transform="translate(80.3,611.4) scale(0.97,1)" font-size="8.1" text-anchor="middle" font-style="italic" stroke="#231f20" stroke-width="0.25">P=0.006</text>
<line x1="116.4" y1="614.1" x2="140.6" y2="614.1" stroke="#231f20" stroke-width="1.2"/>
<text transform="translate(128.8,611.4) scale(0.97,1)" font-size="8.1" text-anchor="middle" font-style="italic" stroke="#231f20" stroke-width="0.25">P=0.005</text>
<text transform="translate(7.8,598.9)" font-size="12.6" font-weight="bold" fill="#000">F</text>
<rect x="234.25" y="219.96" width="15.9" height="11.54" fill="#b8bdd8"/>
<rect x="259.25" y="204.8" width="15.9" height="26.7" fill="#e2bdb1"/>
<rect x="284.35" y="221.89" width="15.9" height="9.61" fill="#b8bdd8"/>
<rect x="309.35" y="213.45" width="15.9" height="18.05" fill="#e2bdb1"/>
<circle cx="235.8" cy="218.23" r="1.7" fill="none" stroke="#264a8b" stroke-width="1.1"/>
<circle cx="239" cy="216.14" r="1.7" fill="none" stroke="#264a8b" stroke-width="1.1"/>
<circle cx="242.2" cy="218.23" r="1.7" fill="none" stroke="#264a8b" stroke-width="1.1"/>
<circle cx="245.8" cy="216.9" r="1.7" fill="none" stroke="#264a8b" stroke-width="1.1"/>
<circle cx="249.2" cy="218.23" r="1.7" fill="none" stroke="#264a8b" stroke-width="1.1"/>
<circle cx="267.2" cy="186.28" r="1.7" fill="none" stroke="#b3173b" stroke-width="1.1"/>
<circle cx="267.2" cy="191.6" r="1.7" fill="none" stroke="#b3173b" stroke-width="1.1"/>
<circle cx="263.9" cy="204.24" r="1.7" fill="none" stroke="#b3173b" stroke-width="1.1"/>
<circle cx="270.5" cy="206.23" r="1.7" fill="none" stroke="#b3173b" stroke-width="1.1"/>
<circle cx="263.9" cy="208.56" r="1.7" fill="none" stroke="#b3173b" stroke-width="1.1"/>
<circle cx="285.8" cy="220.93" r="2.0" fill="#264a8b"/>
<circle cx="289" cy="219.6" r="2.0" fill="#264a8b"/>
<circle cx="292.5" cy="218.63" r="2.0" fill="#264a8b"/>
<circle cx="295.8" cy="218.63" r="2.0" fill="#264a8b"/>
<circle cx="298.8" cy="220.93" r="2.0" fill="#264a8b"/>
<circle cx="317.3" cy="191.6" r="2.0" fill="#b3173b"/>
<circle cx="317.3" cy="209.39" r="2.0" fill="#b3173b"/>
<circle cx="317.3" cy="212.88" r="2.0" fill="#b3173b"/>
<circle cx="313.9" cy="216.14" r="2.0" fill="#b3173b"/>
<circle cx="320.5" cy="216.14" r="2.0" fill="#b3173b"/>
<line x1="279.6" y1="164.5" x2="279.6" y2="231.5" stroke="#333" stroke-width="1.3" stroke-dasharray="3.2,2.2"/>
<line x1="230" y1="162.2" x2="230" y2="232.15" stroke="#231f20" stroke-width="1.3"/>
<line x1="226.6" y1="231.5" x2="230" y2="231.5" stroke="#231f20" stroke-width="1.3"/>
<text transform="translate(223.4,234.6) scale(0.9,1)" font-size="9.1" text-anchor="end">0</text>
<line x1="226.6" y1="214.88" x2="230" y2="214.88" stroke="#231f20" stroke-width="1.3"/>
<text transform="translate(223.4,217.97) scale(0.9,1)" font-size="9.1" text-anchor="end">5</text>
<line x1="226.6" y1="198.25" x2="230" y2="198.25" stroke="#231f20" stroke-width="1.3"/>
<text transform="translate(223.4,201.35) scale(0.9,1)" font-size="9.1" text-anchor="end">10</text>
<line x1="226.6" y1="181.62" x2="230" y2="181.62" stroke="#231f20" stroke-width="1.3"/>
<text transform="translate(223.4,184.72) scale(0.9,1)" font-size="9.1" text-anchor="end">15</text>
<line x1="226.6" y1="165" x2="230" y2="165" stroke="#231f20" stroke-width="1.3"/>
<text transform="translate(223.4,168.1) scale(0.9,1)" font-size="9.1" text-anchor="end">20</text>
<text transform="translate(209.8,223.92) rotate(-90) scale(0.76,1)" font-size="10.2">PG lagtime (min)</text>
<line x1="226.6" y1="231.5" x2="329.5" y2="231.5" stroke="#231f20" stroke-width="1.3"/>
<line x1="242.2" y1="231.5" x2="242.2" y2="234.9" stroke="#231f20" stroke-width="1.1"/>
<line x1="267.2" y1="231.5" x2="267.2" y2="234.9" stroke="#231f20" stroke-width="1.1"/>
<line x1="292.3" y1="231.5" x2="292.3" y2="234.9" stroke="#231f20" stroke-width="1.1"/>
<line x1="317.3" y1="231.5" x2="317.3" y2="234.9" stroke="#231f20" stroke-width="1.1"/>
<text transform="translate(242.2,245.4)" font-size="9.2" text-anchor="middle">CD</text>
<text transform="translate(267.2,245.4)" font-size="9.2" text-anchor="middle">HFD</text>
<text transform="translate(292.3,245.4)" font-size="9.2" text-anchor="middle">CD</text>
<text transform="translate(317.3,245.4)" font-size="9.2" text-anchor="middle">HFD</text>
<line x1="241.3" y1="173.6" x2="267.6" y2="173.6" stroke="#231f20" stroke-width="1.2"/>
<text transform="translate(254.75,170.9) scale(0.97,1)" font-size="8.1" text-anchor="middle" font-style="italic" stroke="#231f20" stroke-width="0.25">P=0.002</text>
<line x1="290.4" y1="173.6" x2="317.2" y2="173.6" stroke="#231f20" stroke-width="1.2"/>
<text transform="translate(304.1,170.9) scale(0.97,1)" font-size="8.1" text-anchor="middle" font-style="italic" stroke="#231f20" stroke-width="0.25">P=0.049</text>
<text transform="translate(183.5,157.5)" font-size="12.6" font-weight="bold" fill="#000">H</text>
<rect x="234.25" y="318.16" width="15.9" height="23.44" fill="#b8bdd8"/>
<rect x="259.25" y="300.87" width="15.9" height="40.73" fill="#e2bdb1"/>
<rect x="284.35" y="327.8" width="15.9" height="13.8" fill="#b8bdd8"/>
<rect x="309.35" y="310.84" width="15.9" height="30.76" fill="#e2bdb1"/>
<circle cx="235.8" cy="316.66" r="1.7" fill="none" stroke="#264a8b" stroke-width="1.1"/>
<circle cx="242.2" cy="315.67" r="1.7" fill="none" stroke="#264a8b" stroke-width="1.1"/>
<circle cx="248.6" cy="316.83" r="1.7" fill="none" stroke="#264a8b" stroke-width="1.1"/>
<circle cx="242.2" cy="320.49" r="1.7" fill="none" stroke="#264a8b" stroke-width="1.1"/>
<circle cx="242.2" cy="325.81" r="1.7" fill="none" stroke="#264a8b" stroke-width="1.1"/>
<circle cx="263.9" cy="296.05" r="1.7" fill="none" stroke="#b3173b" stroke-width="1.1"/>
<circle cx="270.5" cy="296.05" r="1.7" fill="none" stroke="#b3173b" stroke-width="1.1"/>
<circle cx="267.2" cy="300.2" r="1.7" fill="none" stroke="#b3173b" stroke-width="1.1"/>
<circle cx="267.2" cy="303.7" r="1.7" fill="none" stroke="#b3173b" stroke-width="1.1"/>
<circle cx="267.2" cy="307.19" r="1.7" fill="none" stroke="#b3173b" stroke-width="1.1"/>
<circle cx="289.1" cy="320.49" r="2.0" fill="#264a8b"/>
<circle cx="295.9" cy="320.99" r="2.0" fill="#264a8b"/>
<circle cx="292.3" cy="325.81" r="2.0" fill="#264a8b"/>
<circle cx="285.8" cy="327.8" r="2.0" fill="#264a8b"/>
<circle cx="298.8" cy="327.14" r="2.0" fill="#264a8b"/>
<circle cx="317.3" cy="297.38" r="2.0" fill="#b3173b"/>
<circle cx="313.9" cy="310.51" r="2.0" fill="#b3173b"/>
<circle cx="320.5" cy="307.52" r="2.0" fill="#b3173b"/>
<circle cx="313.9" cy="314.83" r="2.0" fill="#b3173b"/>
<circle cx="320.5" cy="314.83" r="2.0" fill="#b3173b"/>
<line x1="279.6" y1="274.6" x2="279.6" y2="341.6" stroke="#333" stroke-width="1.3" stroke-dasharray="3.2,2.2"/>
<line x1="230" y1="272.3" x2="230" y2="342.25" stroke="#231f20" stroke-width="1.3"/>
<line x1="226.6" y1="341.6" x2="230" y2="341.6" stroke="#231f20" stroke-width="1.3"/>
<text transform="translate(223.4,344.7) scale(0.9,1)" font-size="9.1" text-anchor="end">0</text>
<line x1="226.6" y1="324.98" x2="230" y2="324.98" stroke="#231f20" stroke-width="1.3"/>
<text transform="translate(223.4,328.08) scale(0.9,1)" font-size="9.1" text-anchor="end">10</text>
<line x1="226.6" y1="308.35" x2="230" y2="308.35" stroke="#231f20" stroke-width="1.3"/>
<text transform="translate(223.4,311.45) scale(0.9,1)" font-size="9.1" text-anchor="end">20</text>
<line x1="226.6" y1="291.73" x2="230" y2="291.73" stroke="#231f20" stroke-width="1.3"/>
<text transform="translate(223.4,294.83) scale(0.9,1)" font-size="9.1" text-anchor="end">30</text>
<line x1="226.6" y1="275.1" x2="230" y2="275.1" stroke="#231f20" stroke-width="1.3"/>
<text transform="translate(223.4,278.2) scale(0.9,1)" font-size="9.1" text-anchor="end">40</text>
<text transform="translate(208.6,335.11) rotate(-90) scale(0.75,1)" font-size="10.2">PG TtPeak (min)</text>
<line x1="226.6" y1="341.6" x2="329.5" y2="341.6" stroke="#231f20" stroke-width="1.3"/>
<line x1="242.2" y1="341.6" x2="242.2" y2="345" stroke="#231f20" stroke-width="1.1"/>
<line x1="267.2" y1="341.6" x2="267.2" y2="345" stroke="#231f20" stroke-width="1.1"/>
<line x1="292.3" y1="341.6" x2="292.3" y2="345" stroke="#231f20" stroke-width="1.1"/>
<line x1="317.3" y1="341.6" x2="317.3" y2="345" stroke="#231f20" stroke-width="1.1"/>
<text transform="translate(242.2,355.5)" font-size="9.2" text-anchor="middle">CD</text>
<text transform="translate(267.2,355.5)" font-size="9.2" text-anchor="middle">HFD</text>
<text transform="translate(292.3,355.5)" font-size="9.2" text-anchor="middle">CD</text>
<text transform="translate(317.3,355.5)" font-size="9.2" text-anchor="middle">HFD</text>
<line x1="241.3" y1="283.6" x2="267.6" y2="283.6" stroke="#231f20" stroke-width="1.2"/>
<text transform="translate(254.75,280.6) scale(0.97,1)" font-size="8.1" text-anchor="middle" font-style="italic" stroke="#231f20" stroke-width="0.25">P&lt;0.001</text>
<line x1="290.4" y1="283.6" x2="317.2" y2="283.6" stroke="#231f20" stroke-width="1.2"/>
<text transform="translate(304.1,280.6) scale(0.97,1)" font-size="8.1" text-anchor="middle" font-style="italic" stroke="#231f20" stroke-width="0.25">P=0.002</text>
<text transform="translate(183.5,267.9)" font-size="12.6" font-weight="bold" fill="#000">I</text>
<rect x="234.25" y="424.95" width="15.9" height="27.35" fill="#b8bdd8"/>
<rect x="259.25" y="449.02" width="15.9" height="3.28" fill="#e2bdb1"/>
<rect x="284.35" y="417.01" width="15.9" height="35.29" fill="#b8bdd8"/>
<rect x="309.35" y="447.11" width="15.9" height="5.19" fill="#e2bdb1"/>
<circle cx="242.2" cy="412.22" r="1.7" fill="none" stroke="#264a8b" stroke-width="1.1"/>
<circle cx="235.8" cy="422.02" r="1.7" fill="none" stroke="#264a8b" stroke-width="1.1"/>
<circle cx="242.2" cy="424.72" r="1.7" fill="none" stroke="#264a8b" stroke-width="1.1"/>
<circle cx="248.6" cy="423.97" r="1.7" fill="none" stroke="#264a8b" stroke-width="1.1"/>
<circle cx="242.2" cy="433.41" r="1.7" fill="none" stroke="#264a8b" stroke-width="1.1"/>
<circle cx="260.4" cy="447.47" r="1.7" fill="none" stroke="#b3173b" stroke-width="1.1"/>
<circle cx="264.8" cy="446.89" r="1.7" fill="none" stroke="#b3173b" stroke-width="1.1"/>
<circle cx="269.4" cy="447.87" r="1.7" fill="none" stroke="#b3173b" stroke-width="1.1"/>
<circle cx="274" cy="447.29" r="1.7" fill="none" stroke="#b3173b" stroke-width="1.1"/>
<circle cx="264.8" cy="450.97" r="1.7" fill="none" stroke="#b3173b" stroke-width="1.1"/>
<circle cx="289.1" cy="401.76" r="2.0" fill="#264a8b"/>
<circle cx="295.9" cy="404.86" r="2.0" fill="#264a8b"/>
<circle cx="292.3" cy="416.66" r="2.0" fill="#264a8b"/>
<circle cx="292.3" cy="428.23" r="2.0" fill="#264a8b"/>
<circle cx="292.3" cy="435.9" r="2.0" fill="#264a8b"/>
<circle cx="317.3" cy="434.57" r="2.0" fill="#b3173b"/>
<circle cx="317.3" cy="441.7" r="2.0" fill="#b3173b"/>
<circle cx="317.3" cy="446.54" r="2.0" fill="#b3173b"/>
<circle cx="310.5" cy="448.44" r="2.0" fill="#b3173b"/>
<circle cx="323.8" cy="446.54" r="2.0" fill="#b3173b"/>
<line x1="279.6" y1="385.3" x2="279.6" y2="452.3" stroke="#333" stroke-width="1.3" stroke-dasharray="3.2,2.2"/>
<line x1="230" y1="383" x2="230" y2="452.95" stroke="#231f20" stroke-width="1.3"/>
<line x1="226.6" y1="452.3" x2="230" y2="452.3" stroke="#231f20" stroke-width="1.3"/>
<text transform="translate(223.4,455.4) scale(0.9,1)" font-size="9.1" text-anchor="end">0</text>
<line x1="226.6" y1="430.13" x2="230" y2="430.13" stroke="#231f20" stroke-width="1.3"/>
<text transform="translate(223.4,433.23) scale(0.9,1)" font-size="9.1" text-anchor="end">5</text>
<line x1="226.6" y1="407.97" x2="230" y2="407.97" stroke="#231f20" stroke-width="1.3"/>
<text transform="translate(223.4,411.07) scale(0.9,1)" font-size="9.1" text-anchor="end">10</text>
<line x1="226.6" y1="385.8" x2="230" y2="385.8" stroke="#231f20" stroke-width="1.3"/>
<text transform="translate(223.4,388.9) scale(0.9,1)" font-size="9.1" text-anchor="end">15</text>
<text transform="translate(209,454.85) rotate(-90) scale(0.8,1)" font-size="10.2">PG velocity (nM/min)</text>
<line x1="226.6" y1="452.3" x2="329.5" y2="452.3" stroke="#231f20" stroke-width="1.3"/>
<line x1="242.2" y1="452.3" x2="242.2" y2="455.7" stroke="#231f20" stroke-width="1.1"/>
<line x1="267.2" y1="452.3" x2="267.2" y2="455.7" stroke="#231f20" stroke-width="1.1"/>
<line x1="292.3" y1="452.3" x2="292.3" y2="455.7" stroke="#231f20" stroke-width="1.1"/>
<line x1="317.3" y1="452.3" x2="317.3" y2="455.7" stroke="#231f20" stroke-width="1.1"/>
<text transform="translate(242.2,466.2)" font-size="9.2" text-anchor="middle">CD</text>
<text transform="translate(267.2,466.2)" font-size="9.2" text-anchor="middle">HFD</text>
<text transform="translate(292.3,466.2)" font-size="9.2" text-anchor="middle">CD</text>
<text transform="translate(317.3,466.2)" font-size="9.2" text-anchor="middle">HFD</text>
<line x1="241.3" y1="393.6" x2="267.6" y2="393.6" stroke="#231f20" stroke-width="1.2"/>
<text transform="translate(254.75,390.9) scale(0.97,1)" font-size="8.1" text-anchor="middle" font-style="italic" stroke="#231f20" stroke-width="0.25">P&lt;0.001</text>
<line x1="290.4" y1="393.6" x2="317.2" y2="393.6" stroke="#231f20" stroke-width="1.2"/>
<text transform="translate(304.1,390.9) scale(0.97,1)" font-size="8.1" text-anchor="middle" font-style="italic" stroke="#231f20" stroke-width="0.25">P=0.006</text>
<text transform="translate(183.5,378.3)" font-size="12.6" font-weight="bold" fill="#000">J</text>
<rect x="234.25" y="520.87" width="15.9" height="41.73" fill="#b8bdd8"/>
<rect x="259.25" y="515.63" width="15.9" height="46.97" fill="#e2bdb1"/>
<rect x="284.35" y="520.87" width="15.9" height="41.73" fill="#b8bdd8"/>
<rect x="309.35" y="520.29" width="15.9" height="42.31" fill="#e2bdb1"/>
<circle cx="242.2" cy="511.81" r="1.7" fill="none" stroke="#264a8b" stroke-width="1.1"/>
<circle cx="238.8" cy="519.87" r="1.7" fill="none" stroke="#264a8b" stroke-width="1.1"/>
<circle cx="245.8" cy="519.29" r="1.7" fill="none" stroke="#264a8b" stroke-width="1.1"/>
<circle cx="238.8" cy="527.02" r="1.7" fill="none" stroke="#264a8b" stroke-width="1.1"/>
<circle cx="245.8" cy="526.19" r="1.7" fill="none" stroke="#264a8b" stroke-width="1.1"/>
<circle cx="263.9" cy="507.41" r="1.7" fill="none" stroke="#b3173b" stroke-width="1.1"/>
<circle cx="270.5" cy="507.41" r="1.7" fill="none" stroke="#b3173b" stroke-width="1.1"/>
<circle cx="260.4" cy="515.47" r="1.7" fill="none" stroke="#b3173b" stroke-width="1.1"/>
<circle cx="267.2" cy="514.14" r="1.7" fill="none" stroke="#b3173b" stroke-width="1.1"/>
<circle cx="274" cy="515.47" r="1.7" fill="none" stroke="#b3173b" stroke-width="1.1"/>
<circle cx="289" cy="515.63" r="2.0" fill="#264a8b"/>
<circle cx="289" cy="519.87" r="2.0" fill="#264a8b"/>
<circle cx="289" cy="524.28" r="2.0" fill="#264a8b"/>
<circle cx="295.8" cy="518.38" r="2.0" fill="#264a8b"/>
<circle cx="295.8" cy="523.12" r="2.0" fill="#264a8b"/>
<circle cx="313.9" cy="508.74" r="2.0" fill="#b3173b"/>
<circle cx="320.5" cy="510.65" r="2.0" fill="#b3173b"/>
<circle cx="317.3" cy="519.87" r="2.0" fill="#b3173b"/>
<circle cx="313.9" cy="531.01" r="2.0" fill="#b3173b"/>
<circle cx="320.5" cy="529.52" r="2.0" fill="#b3173b"/>
<line x1="279.6" y1="495.6" x2="279.6" y2="562.6" stroke="#333" stroke-width="1.3" stroke-dasharray="3.2,2.2"/>
<line x1="230" y1="493.3" x2="230" y2="563.25" stroke="#231f20" stroke-width="1.3"/>
<line x1="226.6" y1="562.6" x2="230" y2="562.6" stroke="#231f20" stroke-width="1.3"/>
<text transform="translate(223.4,565.7) scale(0.9,1)" font-size="9.1" text-anchor="end">0</text>
<line x1="226.6" y1="545.98" x2="230" y2="545.98" stroke="#231f20" stroke-width="1.3"/>
<text transform="translate(223.4,549.08) scale(0.9,1)" font-size="9.1" text-anchor="end">20</text>
<line x1="226.6" y1="529.35" x2="230" y2="529.35" stroke="#231f20" stroke-width="1.3"/>
<text transform="translate(223.4,532.45) scale(0.9,1)" font-size="9.1" text-anchor="end">40</text>
<line x1="226.6" y1="512.73" x2="230" y2="512.73" stroke="#231f20" stroke-width="1.3"/>
<text transform="translate(223.4,515.83) scale(0.9,1)" font-size="9.1" text-anchor="end">60</text>
<line x1="226.6" y1="496.1" x2="230" y2="496.1" stroke="#231f20" stroke-width="1.3"/>
<text transform="translate(223.4,499.2) scale(0.9,1)" font-size="9.1" text-anchor="end">80</text>
<text transform="translate(208.9,551.72) rotate(-90) scale(0.76,1)" font-size="10.2">PG peak (nM)</text>
<line x1="226.6" y1="562.6" x2="329.5" y2="562.6" stroke="#231f20" stroke-width="1.3"/>
<line x1="242.2" y1="562.6" x2="242.2" y2="566" stroke="#231f20" stroke-width="1.1"/>
<line x1="267.2" y1="562.6" x2="267.2" y2="566" stroke="#231f20" stroke-width="1.1"/>
<line x1="292.3" y1="562.6" x2="292.3" y2="566" stroke="#231f20" stroke-width="1.1"/>
<line x1="317.3" y1="562.6" x2="317.3" y2="566" stroke="#231f20" stroke-width="1.1"/>
<text transform="translate(242.2,576.5)" font-size="9.2" text-anchor="middle">CD</text>
<text transform="translate(267.2,576.5)" font-size="9.2" text-anchor="middle">HFD</text>
<text transform="translate(292.3,576.5)" font-size="9.2" text-anchor="middle">CD</text>
<text transform="translate(317.3,576.5)" font-size="9.2" text-anchor="middle">HFD</text>
<text transform="translate(183.5,488.7)" font-size="12.6" font-weight="bold" fill="#000">K</text>
<rect x="234.25" y="636" width="15.9" height="36.8" fill="#b8bdd8"/>
<rect x="259.25" y="626.8" width="15.9" height="46" fill="#e2bdb1"/>
<rect x="284.35" y="637.33" width="15.9" height="35.47" fill="#b8bdd8"/>
<rect x="309.35" y="631.18" width="15.9" height="41.62" fill="#e2bdb1"/>
<circle cx="242.2" cy="626.42" r="1.7" fill="none" stroke="#264a8b" stroke-width="1.1"/>
<circle cx="235.8" cy="634.62" r="1.7" fill="none" stroke="#264a8b" stroke-width="1.1"/>
<circle cx="239" cy="633.12" r="1.7" fill="none" stroke="#264a8b" stroke-width="1.1"/>
<circle cx="245.4" cy="634.06" r="1.7" fill="none" stroke="#264a8b" stroke-width="1.1"/>
<circle cx="249.2" cy="634.45" r="1.7" fill="none" stroke="#264a8b" stroke-width="1.1"/>
<circle cx="267.2" cy="620.1" r="1.7" fill="none" stroke="#b3173b" stroke-width="1.1"/>
<circle cx="260.4" cy="626.8" r="1.7" fill="none" stroke="#b3173b" stroke-width="1.1"/>
<circle cx="263.8" cy="624.48" r="1.7" fill="none" stroke="#b3173b" stroke-width="1.1"/>
<circle cx="270.4" cy="624.86" r="1.7" fill="none" stroke="#b3173b" stroke-width="1.1"/>
<circle cx="274" cy="625.03" r="1.7" fill="none" stroke="#b3173b" stroke-width="1.1"/>
<circle cx="289" cy="631.57" r="2.0" fill="#264a8b"/>
<circle cx="289" cy="636.56" r="2.0" fill="#264a8b"/>
<circle cx="289" cy="641.16" r="2.0" fill="#264a8b"/>
<circle cx="295.8" cy="634.45" r="2.0" fill="#264a8b"/>
<circle cx="295.8" cy="639.44" r="2.0" fill="#264a8b"/>
<circle cx="313.9" cy="620.65" r="2.0" fill="#b3173b"/>
<circle cx="320.5" cy="618.16" r="2.0" fill="#b3173b"/>
<circle cx="313.9" cy="630.24" r="2.0" fill="#b3173b"/>
<circle cx="320.5" cy="631.57" r="2.0" fill="#b3173b"/>
<circle cx="313.9" cy="634.62" r="2.0" fill="#b3173b"/>
<line x1="279.6" y1="605.8" x2="279.6" y2="672.8" stroke="#333" stroke-width="1.3" stroke-dasharray="3.2,2.2"/>
<line x1="230" y1="603.5" x2="230" y2="673.45" stroke="#231f20" stroke-width="1.3"/>
<line x1="226.6" y1="672.8" x2="230" y2="672.8" stroke="#231f20" stroke-width="1.3"/>
<text transform="translate(223.4,675.9) scale(0.9,1)" font-size="9.1" text-anchor="end">0</text>
<line x1="226.6" y1="656.17" x2="230" y2="656.17" stroke="#231f20" stroke-width="1.3"/>
<text transform="translate(223.4,659.27) scale(0.9,1)" font-size="9.1" text-anchor="end">300</text>
<line x1="226.6" y1="639.55" x2="230" y2="639.55" stroke="#231f20" stroke-width="1.3"/>
<text transform="translate(223.4,642.65) scale(0.9,1)" font-size="9.1" text-anchor="end">600</text>
<line x1="226.6" y1="622.92" x2="230" y2="622.92" stroke="#231f20" stroke-width="1.3"/>
<text transform="translate(223.4,626.02) scale(0.9,1)" font-size="9.1" text-anchor="end">900</text>
<line x1="226.6" y1="606.3" x2="230" y2="606.3" stroke="#231f20" stroke-width="1.3"/>
<text transform="translate(223.4,609.4) scale(0.9,1)" font-size="9.1" text-anchor="end">1200</text>
<text transform="translate(199.3,662.33) rotate(-90) scale(0.77,1)" font-size="10.2">EPP (nM·min)</text>
<line x1="226.6" y1="672.8" x2="329.5" y2="672.8" stroke="#231f20" stroke-width="1.3"/>
<line x1="242.2" y1="672.8" x2="242.2" y2="676.2" stroke="#231f20" stroke-width="1.1"/>
<line x1="267.2" y1="672.8" x2="267.2" y2="676.2" stroke="#231f20" stroke-width="1.1"/>
<line x1="292.3" y1="672.8" x2="292.3" y2="676.2" stroke="#231f20" stroke-width="1.1"/>
<line x1="317.3" y1="672.8" x2="317.3" y2="676.2" stroke="#231f20" stroke-width="1.1"/>
<text transform="translate(242.2,686.7)" font-size="9.2" text-anchor="middle">CD</text>
<text transform="translate(267.2,686.7)" font-size="9.2" text-anchor="middle">HFD</text>
<text transform="translate(292.3,686.7)" font-size="9.2" text-anchor="middle">CD</text>
<text transform="translate(317.3,686.7)" font-size="9.2" text-anchor="middle">HFD</text>
<line x1="241.3" y1="614.1" x2="267.6" y2="614.1" stroke="#231f20" stroke-width="1.2"/>
<text transform="translate(254.75,611.1) scale(0.97,1)" font-size="8.1" text-anchor="middle" font-style="italic" stroke="#231f20" stroke-width="0.25">P=0.001</text>
<line x1="290.4" y1="614.1" x2="317.2" y2="614.1" stroke="#231f20" stroke-width="1.2"/>
<text transform="translate(304.1,611.1) scale(0.97,1)" font-size="8.1" text-anchor="middle" font-style="italic" stroke="#231f20" stroke-width="0.25">P=0.030</text>
<text transform="translate(183.5,598.9)" font-size="12.6" font-weight="bold" fill="#000">L</text>
<rect x="413.75" y="211.15" width="32.3" height="20.35" fill="#b8bdd8"/>
<rect x="463.85" y="210.75" width="32.3" height="20.75" fill="#e2bdb1"/>
<circle cx="416.5" cy="210.75" r="1.7" fill="none" stroke="#264a8b" stroke-width="1.1"/>
<circle cx="423.3" cy="209.16" r="1.7" fill="none" stroke="#264a8b" stroke-width="1.1"/>
<circle cx="430" cy="210.88" r="1.7" fill="none" stroke="#264a8b" stroke-width="1.1"/>
<circle cx="436.7" cy="210.22" r="1.7" fill="none" stroke="#264a8b" stroke-width="1.1"/>
<circle cx="443.5" cy="210.88" r="1.7" fill="none" stroke="#264a8b" stroke-width="1.1"/>
<circle cx="472.9" cy="207.83" r="1.7" fill="none" stroke="#b3173b" stroke-width="1.1"/>
<circle cx="472.9" cy="212.08" r="1.7" fill="none" stroke="#b3173b" stroke-width="1.1"/>
<circle cx="479.6" cy="210.22" r="1.7" fill="none" stroke="#b3173b" stroke-width="1.1"/>
<circle cx="486.7" cy="206.36" r="1.7" fill="none" stroke="#b3173b" stroke-width="1.1"/>
<circle cx="486.7" cy="210.22" r="1.7" fill="none" stroke="#b3173b" stroke-width="1.1"/>
<line x1="405.4" y1="162.2" x2="405.4" y2="232.15" stroke="#231f20" stroke-width="1.3"/>
<line x1="402" y1="231.5" x2="405.4" y2="231.5" stroke="#231f20" stroke-width="1.3"/>
<text transform="translate(398.8,234.6) scale(0.9,1)" font-size="9.1" text-anchor="end">0</text>
<line x1="402" y1="218.2" x2="405.4" y2="218.2" stroke="#231f20" stroke-width="1.3"/>
<text transform="translate(398.8,221.3) scale(0.9,1)" font-size="9.1" text-anchor="end">1</text>
<line x1="402" y1="204.9" x2="405.4" y2="204.9" stroke="#231f20" stroke-width="1.3"/>
<text transform="translate(398.8,208) scale(0.9,1)" font-size="9.1" text-anchor="end">2</text>
<line x1="402" y1="191.6" x2="405.4" y2="191.6" stroke="#231f20" stroke-width="1.3"/>
<text transform="translate(398.8,194.7) scale(0.9,1)" font-size="9.1" text-anchor="end">3</text>
<line x1="402" y1="178.3" x2="405.4" y2="178.3" stroke="#231f20" stroke-width="1.3"/>
<text transform="translate(398.8,181.4) scale(0.9,1)" font-size="9.1" text-anchor="end">4</text>
<line x1="402" y1="165" x2="405.4" y2="165" stroke="#231f20" stroke-width="1.3"/>
<text transform="translate(398.8,168.1) scale(0.9,1)" font-size="9.1" text-anchor="end">5</text>
<text transform="translate(388.5,218.47) rotate(-90) scale(0.82,1)" font-size="10.2">Onset (min)</text>
<line x1="402" y1="231.5" x2="505.5" y2="231.5" stroke="#231f20" stroke-width="1.3"/>
<line x1="429.9" y1="231.5" x2="429.9" y2="234.9" stroke="#231f20" stroke-width="1.1"/>
<line x1="480" y1="231.5" x2="480" y2="234.9" stroke="#231f20" stroke-width="1.1"/>
<text transform="translate(429.9,245.4)" font-size="9.2" text-anchor="middle">CD</text>
<text transform="translate(480,245.4)" font-size="9.2" text-anchor="middle">HFD</text>
<text transform="translate(355.6,157.5)" font-size="12.6" font-weight="bold" fill="#000">N</text>
<rect x="413.75" y="311.59" width="32.3" height="30.01" fill="#b8bdd8"/>
<rect x="463.85" y="312.92" width="32.3" height="28.68" fill="#e2bdb1"/>
<circle cx="416.5" cy="313.5" r="1.7" fill="none" stroke="#264a8b" stroke-width="1.1"/>
<circle cx="423.3" cy="310.01" r="1.7" fill="none" stroke="#264a8b" stroke-width="1.1"/>
<circle cx="430" cy="310.59" r="1.7" fill="none" stroke="#264a8b" stroke-width="1.1"/>
<circle cx="436.7" cy="310.59" r="1.7" fill="none" stroke="#264a8b" stroke-width="1.1"/>
<circle cx="443.5" cy="313.5" r="1.7" fill="none" stroke="#264a8b" stroke-width="1.1"/>
<circle cx="480" cy="305.19" r="1.7" fill="none" stroke="#b3173b" stroke-width="1.1"/>
<circle cx="472.9" cy="315.83" r="1.7" fill="none" stroke="#b3173b" stroke-width="1.1"/>
<circle cx="480" cy="312.17" r="1.7" fill="none" stroke="#b3173b" stroke-width="1.1"/>
<circle cx="486.7" cy="310.26" r="1.7" fill="none" stroke="#b3173b" stroke-width="1.1"/>
<circle cx="486.7" cy="314.09" r="1.7" fill="none" stroke="#b3173b" stroke-width="1.1"/>
<line x1="405.4" y1="272.3" x2="405.4" y2="342.25" stroke="#231f20" stroke-width="1.3"/>
<line x1="402" y1="341.6" x2="405.4" y2="341.6" stroke="#231f20" stroke-width="1.3"/>
<text transform="translate(398.8,344.7) scale(0.9,1)" font-size="9.1" text-anchor="end">0</text>
<line x1="402" y1="324.98" x2="405.4" y2="324.98" stroke="#231f20" stroke-width="1.3"/>
<text transform="translate(398.8,328.08) scale(0.9,1)" font-size="9.1" text-anchor="end">2</text>
<line x1="402" y1="308.35" x2="405.4" y2="308.35" stroke="#231f20" stroke-width="1.3"/>
<text transform="translate(398.8,311.45) scale(0.9,1)" font-size="9.1" text-anchor="end">4</text>
<line x1="402" y1="291.73" x2="405.4" y2="291.73" stroke="#231f20" stroke-width="1.3"/>
<text transform="translate(398.8,294.83) scale(0.9,1)" font-size="9.1" text-anchor="end">6</text>
<line x1="402" y1="275.1" x2="405.4" y2="275.1" stroke="#231f20" stroke-width="1.3"/>
<text transform="translate(398.8,278.2) scale(0.9,1)" font-size="9.1" text-anchor="end">8</text>
<text transform="translate(388.6,334.16) rotate(-90) scale(0.79,1)" font-size="10.2">TtPlateau (min)</text>
<line x1="402" y1="341.6" x2="505.5" y2="341.6" stroke="#231f20" stroke-width="1.3"/>
<line x1="429.9" y1="341.6" x2="429.9" y2="345" stroke="#231f20" stroke-width="1.1"/>
<line x1="480" y1="341.6" x2="480" y2="345" stroke="#231f20" stroke-width="1.1"/>
<text transform="translate(429.9,355.5)" font-size="9.2" text-anchor="middle">CD</text>
<text transform="translate(480,355.5)" font-size="9.2" text-anchor="middle">HFD</text>
<text transform="translate(355.6,267.9)" font-size="12.6" font-weight="bold" fill="#000">O</text>
<rect x="413.75" y="426.86" width="32.3" height="25.44" fill="#b8bdd8"/>
<rect x="463.85" y="416.31" width="32.3" height="35.99" fill="#e2bdb1"/>
<circle cx="430" cy="404.17" r="1.7" fill="none" stroke="#264a8b" stroke-width="1.1"/>
<circle cx="430" cy="408.58" r="1.7" fill="none" stroke="#264a8b" stroke-width="1.1"/>
<circle cx="423.3" cy="428.19" r="1.7" fill="none" stroke="#264a8b" stroke-width="1.1"/>
<circle cx="430" cy="426.28" r="1.7" fill="none" stroke="#264a8b" stroke-width="1.1"/>
<circle cx="436.7" cy="426.86" r="1.7" fill="none" stroke="#264a8b" stroke-width="1.1"/>
<circle cx="480" cy="401.43" r="1.7" fill="none" stroke="#b3173b" stroke-width="1.1"/>
<circle cx="476.5" cy="415.73" r="1.7" fill="none" stroke="#b3173b" stroke-width="1.1"/>
<circle cx="483.3" cy="414.89" r="1.7" fill="none" stroke="#b3173b" stroke-width="1.1"/>
<circle cx="480" cy="419.55" r="1.7" fill="none" stroke="#b3173b" stroke-width="1.1"/>
<circle cx="480" cy="425.37" r="1.7" fill="none" stroke="#b3173b" stroke-width="1.1"/>
<line x1="405.4" y1="383" x2="405.4" y2="452.95" stroke="#231f20" stroke-width="1.3"/>
<line x1="402" y1="452.3" x2="405.4" y2="452.3" stroke="#231f20" stroke-width="1.3"/>
<text transform="translate(398.8,455.4) scale(0.9,1)" font-size="9.1" text-anchor="end">0</text>
<line x1="402" y1="435.68" x2="405.4" y2="435.68" stroke="#231f20" stroke-width="1.3"/>
<text transform="translate(398.8,438.78) scale(0.9,1)" font-size="9.1" text-anchor="end">20</text>
<line x1="402" y1="419.05" x2="405.4" y2="419.05" stroke="#231f20" stroke-width="1.3"/>
<text transform="translate(398.8,422.15) scale(0.9,1)" font-size="9.1" text-anchor="end">40</text>
<line x1="402" y1="402.43" x2="405.4" y2="402.43" stroke="#231f20" stroke-width="1.3"/>
<text transform="translate(398.8,405.53) scale(0.9,1)" font-size="9.1" text-anchor="end">60</text>
<line x1="402" y1="385.8" x2="405.4" y2="385.8" stroke="#231f20" stroke-width="1.3"/>
<text transform="translate(398.8,388.9) scale(0.9,1)" font-size="9.1" text-anchor="end">80</text>
<text transform="translate(384.4,449.44) rotate(-90) scale(0.81,1)" font-size="10.2">Vmax (mOD/min)</text>
<line x1="402" y1="452.3" x2="505.5" y2="452.3" stroke="#231f20" stroke-width="1.3"/>
<line x1="429.9" y1="452.3" x2="429.9" y2="455.7" stroke="#231f20" stroke-width="1.1"/>
<line x1="480" y1="452.3" x2="480" y2="455.7" stroke="#231f20" stroke-width="1.1"/>
<text transform="translate(429.9,466.2)" font-size="9.2" text-anchor="middle">CD</text>
<text transform="translate(480,466.2)" font-size="9.2" text-anchor="middle">HFD</text>
<text transform="translate(355.6,378.3)" font-size="12.6" font-weight="bold" fill="#000">P</text>
<rect x="413.75" y="533.94" width="32.3" height="28.66" fill="#b8bdd8"/>
<rect x="463.85" y="527.02" width="32.3" height="35.58" fill="#e2bdb1"/>
<circle cx="426.5" cy="510.9" r="1.7" fill="none" stroke="#264a8b" stroke-width="1.1"/>
<circle cx="433.3" cy="512.23" r="1.7" fill="none" stroke="#264a8b" stroke-width="1.1"/>
<circle cx="430" cy="533.01" r="1.7" fill="none" stroke="#264a8b" stroke-width="1.1"/>
<circle cx="426.5" cy="540.49" r="1.7" fill="none" stroke="#264a8b" stroke-width="1.1"/>
<circle cx="433.3" cy="538.83" r="1.7" fill="none" stroke="#264a8b" stroke-width="1.1"/>
<circle cx="480" cy="507.41" r="1.7" fill="none" stroke="#b3173b" stroke-width="1.1"/>
<circle cx="480" cy="522.87" r="1.7" fill="none" stroke="#b3173b" stroke-width="1.1"/>
<circle cx="480" cy="526.69" r="1.7" fill="none" stroke="#b3173b" stroke-width="1.1"/>
<circle cx="480" cy="531.01" r="1.7" fill="none" stroke="#b3173b" stroke-width="1.1"/>
<circle cx="480" cy="535.67" r="1.7" fill="none" stroke="#b3173b" stroke-width="1.1"/>
<line x1="405.4" y1="493.3" x2="405.4" y2="563.25" stroke="#231f20" stroke-width="1.3"/>
<line x1="402" y1="562.6" x2="405.4" y2="562.6" stroke="#231f20" stroke-width="1.3"/>
<text transform="translate(398.8,565.7) scale(0.9,1)" font-size="9.1" text-anchor="end">0.00</text>
<line x1="402" y1="545.98" x2="405.4" y2="545.98" stroke="#231f20" stroke-width="1.3"/>
<text transform="translate(398.8,549.08) scale(0.9,1)" font-size="9.1" text-anchor="end">0.01</text>
<line x1="402" y1="529.35" x2="405.4" y2="529.35" stroke="#231f20" stroke-width="1.3"/>
<text transform="translate(398.8,532.45) scale(0.9,1)" font-size="9.1" text-anchor="end">0.02</text>
<line x1="402" y1="512.73" x2="405.4" y2="512.73" stroke="#231f20" stroke-width="1.3"/>
<text transform="translate(398.8,515.83) scale(0.9,1)" font-size="9.1" text-anchor="end">0.03</text>
<line x1="402" y1="496.1" x2="405.4" y2="496.1" stroke="#231f20" stroke-width="1.3"/>
<text transform="translate(398.8,499.2) scale(0.9,1)" font-size="9.1" text-anchor="end">0.04</text>
<text transform="translate(377,561.84) rotate(-90) scale(0.78,1)" font-size="10.2">Peak (Abs 405 nm)</text>
<line x1="402" y1="562.6" x2="505.5" y2="562.6" stroke="#231f20" stroke-width="1.3"/>
<line x1="429.9" y1="562.6" x2="429.9" y2="566" stroke="#231f20" stroke-width="1.1"/>
<line x1="480" y1="562.6" x2="480" y2="566" stroke="#231f20" stroke-width="1.1"/>
<text transform="translate(429.9,576.5)" font-size="9.2" text-anchor="middle">CD</text>
<text transform="translate(480,576.5)" font-size="9.2" text-anchor="middle">HFD</text>
<text transform="translate(355.6,488.7)" font-size="12.6" font-weight="bold" fill="#000">Q</text>
<rect x="413.75" y="650.19" width="32.3" height="22.61" fill="#b8bdd8"/>
<rect x="463.85" y="632.32" width="32.3" height="40.48" fill="#e2bdb1"/>
<circle cx="419.8" cy="646.69" r="1.7" fill="none" stroke="#264a8b" stroke-width="1.1"/>
<circle cx="419.8" cy="652.45" r="1.7" fill="none" stroke="#264a8b" stroke-width="1.1"/>
<circle cx="426.5" cy="649.21" r="1.7" fill="none" stroke="#264a8b" stroke-width="1.1"/>
<circle cx="433.3" cy="650.19" r="1.7" fill="none" stroke="#264a8b" stroke-width="1.1"/>
<circle cx="440" cy="649.79" r="1.7" fill="none" stroke="#264a8b" stroke-width="1.1"/>
<circle cx="476.5" cy="626.69" r="1.7" fill="none" stroke="#b3173b" stroke-width="1.1"/>
<circle cx="483.3" cy="627.14" r="1.7" fill="none" stroke="#b3173b" stroke-width="1.1"/>
<circle cx="480" cy="631.57" r="1.7" fill="none" stroke="#b3173b" stroke-width="1.1"/>
<circle cx="480" cy="636.45" r="1.7" fill="none" stroke="#b3173b" stroke-width="1.1"/>
<circle cx="480" cy="643.54" r="1.7" fill="none" stroke="#b3173b" stroke-width="1.1"/>
<line x1="405.4" y1="603.5" x2="405.4" y2="673.45" stroke="#231f20" stroke-width="1.3"/>
<line x1="402" y1="672.8" x2="405.4" y2="672.8" stroke="#231f20" stroke-width="1.3"/>
<text transform="translate(398.8,675.9) scale(0.9,1)" font-size="9.1" text-anchor="end">0</text>
<line x1="402" y1="650.63" x2="405.4" y2="650.63" stroke="#231f20" stroke-width="1.3"/>
<text transform="translate(398.8,653.73) scale(0.9,1)" font-size="9.1" text-anchor="end">5</text>
<line x1="402" y1="628.47" x2="405.4" y2="628.47" stroke="#231f20" stroke-width="1.3"/>
<text transform="translate(398.8,631.57) scale(0.9,1)" font-size="9.1" text-anchor="end">10</text>
<line x1="402" y1="606.3" x2="405.4" y2="606.3" stroke="#231f20" stroke-width="1.3"/>
<text transform="translate(398.8,609.4) scale(0.9,1)" font-size="9.1" text-anchor="end">15</text>
<text transform="translate(383.2,675.22) rotate(-90) scale(0.82,1)" font-size="10.2">Clot lysis time (min)</text>
<line x1="402" y1="672.8" x2="505.5" y2="672.8" stroke="#231f20" stroke-width="1.3"/>
<line x1="429.9" y1="672.8" x2="429.9" y2="676.2" stroke="#231f20" stroke-width="1.1"/>
<line x1="480" y1="672.8" x2="480" y2="676.2" stroke="#231f20" stroke-width="1.1"/>
<text transform="translate(429.9,686.7)" font-size="9.2" text-anchor="middle">CD</text>
<text transform="translate(480,686.7)" font-size="9.2" text-anchor="middle">HFD</text>
<line x1="430" y1="613.5" x2="479" y2="613.5" stroke="#231f20" stroke-width="1.2"/>
<text transform="translate(454.8,609.9) scale(0.97,1)" font-size="8.1" text-anchor="middle" font-style="italic" stroke="#231f20" stroke-width="0.25">P&lt;0.001</text>
<text transform="translate(355.6,598.9)" font-size="12.6" font-weight="bold" fill="#000">R</text>
<line x1="66.9" y1="691.9" x2="93.4" y2="691.9" stroke="#444" stroke-width="1.2"/>
<text transform="translate(80.15,701)" font-size="9.2" text-anchor="middle">0.5 pM TF</text>
<line x1="117.3" y1="691.9" x2="143.1" y2="691.9" stroke="#444" stroke-width="1.2"/>
<text transform="translate(130.2,701)" font-size="9.2" text-anchor="middle">2 pM TF</text>
<line x1="241.9" y1="691.9" x2="268.4" y2="691.9" stroke="#444" stroke-width="1.2"/>
<text transform="translate(255.15,701)" font-size="9.2" text-anchor="middle">0.5 pM TF</text>
<line x1="292.3" y1="691.9" x2="318.1" y2="691.9" stroke="#444" stroke-width="1.2"/>
<text transform="translate(305.2,701)" font-size="9.2" text-anchor="middle">2 pM TF</text>
<line x1="430" y1="691.7" x2="479.5" y2="691.7" stroke="#444" stroke-width="1.2"/>
<text transform="translate(454.75,702.2)" font-size="9.2" text-anchor="middle">0.5 pM TF</text>
<rect x="0.6" y="0.6" width="518.8" height="710.8" fill="none" stroke="#000" stroke-width="1.3"/></svg>
</body></html>
